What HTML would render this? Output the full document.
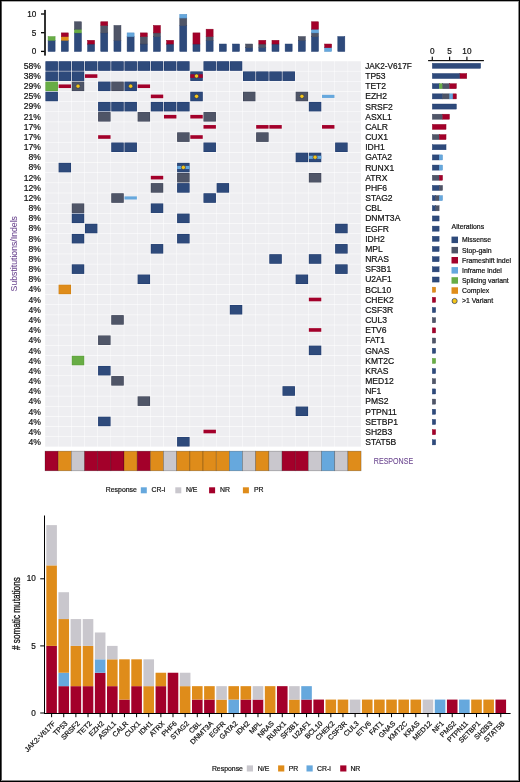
<!DOCTYPE html>
<html><head><meta charset="utf-8"><style>
html,body{margin:0;padding:0;background:#fff;overflow:hidden;}
svg{display:block;font-family:"Liberation Sans", sans-serif;will-change:transform;}
text{stroke:currentColor;stroke-width:0.2px;paint-order:stroke;}
</style></head><body>
<svg width="520" height="782" viewBox="0 0 520 782">
<rect x="0" y="0" width="520" height="782" fill="#fff"/>
<rect x="44.20" y="9.90" width="1.60" height="45.70" fill="#000"/>
<rect x="41.00" y="50.75" width="3.50" height="1.30" fill="#000"/>
<text x="36.40" y="54.30" font-size="8.2" text-anchor="end" fill="#111" color="#111">0</text>
<rect x="41.00" y="32.05" width="3.50" height="1.30" fill="#000"/>
<text x="36.40" y="35.60" font-size="8.2" text-anchor="end" fill="#111" color="#111">5</text>
<rect x="41.00" y="13.35" width="3.50" height="1.30" fill="#000"/>
<text x="36.40" y="16.90" font-size="8.2" text-anchor="end" fill="#111" color="#111">10</text>
<rect x="48.09" y="40.32" width="7.00" height="11.13" fill="#2e4a7b" stroke="#1f3a6e" stroke-width="0.5"/>
<rect x="48.09" y="36.61" width="7.00" height="3.71" fill="#68ad45" stroke="#579a38" stroke-width="0.5"/>
<rect x="61.25" y="40.32" width="7.00" height="11.13" fill="#2e4a7b" stroke="#1f3a6e" stroke-width="0.5"/>
<rect x="61.25" y="36.61" width="7.00" height="3.71" fill="#df8c1a" stroke="#c87a10" stroke-width="0.5"/>
<rect x="61.25" y="32.90" width="7.00" height="3.71" fill="#a3002a" stroke="#8c0022" stroke-width="0.5"/>
<rect x="74.42" y="32.90" width="7.00" height="18.55" fill="#2e4a7b" stroke="#1f3a6e" stroke-width="0.5"/>
<rect x="74.42" y="29.19" width="7.00" height="3.71" fill="#68ad45" stroke="#579a38" stroke-width="0.5"/>
<rect x="74.42" y="21.77" width="7.00" height="7.42" fill="#4f5567" stroke="#3d4357" stroke-width="0.5"/>
<rect x="87.59" y="44.03" width="7.00" height="7.42" fill="#2e4a7b" stroke="#1f3a6e" stroke-width="0.5"/>
<rect x="87.59" y="40.32" width="7.00" height="3.71" fill="#a3002a" stroke="#8c0022" stroke-width="0.5"/>
<rect x="100.77" y="32.90" width="7.00" height="18.55" fill="#2e4a7b" stroke="#1f3a6e" stroke-width="0.5"/>
<rect x="100.77" y="25.48" width="7.00" height="7.42" fill="#4f5567" stroke="#3d4357" stroke-width="0.5"/>
<rect x="100.77" y="21.77" width="7.00" height="3.71" fill="#a3002a" stroke="#8c0022" stroke-width="0.5"/>
<rect x="113.94" y="40.32" width="7.00" height="11.13" fill="#2e4a7b" stroke="#1f3a6e" stroke-width="0.5"/>
<rect x="113.94" y="25.48" width="7.00" height="14.84" fill="#4f5567" stroke="#3d4357" stroke-width="0.5"/>
<rect x="127.11" y="36.61" width="7.00" height="14.84" fill="#2e4a7b" stroke="#1f3a6e" stroke-width="0.5"/>
<rect x="127.11" y="32.90" width="7.00" height="3.71" fill="#66a8dd" stroke="#4f8fc8" stroke-width="0.5"/>
<rect x="140.28" y="44.03" width="7.00" height="7.42" fill="#2e4a7b" stroke="#1f3a6e" stroke-width="0.5"/>
<rect x="140.28" y="36.61" width="7.00" height="7.42" fill="#4f5567" stroke="#3d4357" stroke-width="0.5"/>
<rect x="140.28" y="32.90" width="7.00" height="3.71" fill="#a3002a" stroke="#8c0022" stroke-width="0.5"/>
<rect x="153.44" y="36.61" width="7.00" height="14.84" fill="#2e4a7b" stroke="#1f3a6e" stroke-width="0.5"/>
<rect x="153.44" y="32.90" width="7.00" height="3.71" fill="#4f5567" stroke="#3d4357" stroke-width="0.5"/>
<rect x="153.44" y="25.48" width="7.00" height="7.42" fill="#a3002a" stroke="#8c0022" stroke-width="0.5"/>
<rect x="166.62" y="44.03" width="7.00" height="7.42" fill="#2e4a7b" stroke="#1f3a6e" stroke-width="0.5"/>
<rect x="166.62" y="40.32" width="7.00" height="3.71" fill="#a3002a" stroke="#8c0022" stroke-width="0.5"/>
<rect x="179.78" y="25.48" width="7.00" height="25.97" fill="#2e4a7b" stroke="#1f3a6e" stroke-width="0.5"/>
<rect x="179.78" y="18.06" width="7.00" height="7.42" fill="#4f5567" stroke="#3d4357" stroke-width="0.5"/>
<rect x="179.78" y="14.35" width="7.00" height="3.71" fill="#66a8dd" stroke="#4f8fc8" stroke-width="0.5"/>
<rect x="192.96" y="44.03" width="7.00" height="7.42" fill="#2e4a7b" stroke="#1f3a6e" stroke-width="0.5"/>
<rect x="192.96" y="32.90" width="7.00" height="11.13" fill="#a3002a" stroke="#8c0022" stroke-width="0.5"/>
<rect x="206.12" y="40.32" width="7.00" height="11.13" fill="#2e4a7b" stroke="#1f3a6e" stroke-width="0.5"/>
<rect x="206.12" y="36.61" width="7.00" height="3.71" fill="#4f5567" stroke="#3d4357" stroke-width="0.5"/>
<rect x="206.12" y="29.19" width="7.00" height="7.42" fill="#a3002a" stroke="#8c0022" stroke-width="0.5"/>
<rect x="219.29" y="44.03" width="7.00" height="7.42" fill="#2e4a7b" stroke="#1f3a6e" stroke-width="0.5"/>
<rect x="232.47" y="44.03" width="7.00" height="7.42" fill="#2e4a7b" stroke="#1f3a6e" stroke-width="0.5"/>
<rect x="245.63" y="47.74" width="7.00" height="3.71" fill="#2e4a7b" stroke="#1f3a6e" stroke-width="0.5"/>
<rect x="245.63" y="44.03" width="7.00" height="3.71" fill="#4f5567" stroke="#3d4357" stroke-width="0.5"/>
<rect x="258.81" y="47.74" width="7.00" height="3.71" fill="#2e4a7b" stroke="#1f3a6e" stroke-width="0.5"/>
<rect x="258.81" y="44.03" width="7.00" height="3.71" fill="#4f5567" stroke="#3d4357" stroke-width="0.5"/>
<rect x="258.81" y="40.32" width="7.00" height="3.71" fill="#a3002a" stroke="#8c0022" stroke-width="0.5"/>
<rect x="271.98" y="44.03" width="7.00" height="7.42" fill="#2e4a7b" stroke="#1f3a6e" stroke-width="0.5"/>
<rect x="271.98" y="40.32" width="7.00" height="3.71" fill="#a3002a" stroke="#8c0022" stroke-width="0.5"/>
<rect x="285.14" y="44.03" width="7.00" height="7.42" fill="#2e4a7b" stroke="#1f3a6e" stroke-width="0.5"/>
<rect x="298.31" y="40.32" width="7.00" height="11.13" fill="#2e4a7b" stroke="#1f3a6e" stroke-width="0.5"/>
<rect x="298.31" y="36.61" width="7.00" height="3.71" fill="#4f5567" stroke="#3d4357" stroke-width="0.5"/>
<rect x="311.49" y="36.61" width="7.00" height="14.84" fill="#2e4a7b" stroke="#1f3a6e" stroke-width="0.5"/>
<rect x="311.49" y="32.90" width="7.00" height="3.71" fill="#4f5567" stroke="#3d4357" stroke-width="0.5"/>
<rect x="311.49" y="29.19" width="7.00" height="3.71" fill="#66a8dd" stroke="#4f8fc8" stroke-width="0.5"/>
<rect x="311.49" y="21.77" width="7.00" height="7.42" fill="#a3002a" stroke="#8c0022" stroke-width="0.5"/>
<rect x="324.65" y="47.74" width="7.00" height="3.71" fill="#66a8dd" stroke="#4f8fc8" stroke-width="0.5"/>
<rect x="324.65" y="44.03" width="7.00" height="3.71" fill="#a3002a" stroke="#8c0022" stroke-width="0.5"/>
<rect x="337.82" y="36.61" width="7.00" height="14.84" fill="#2e4a7b" stroke="#1f3a6e" stroke-width="0.5"/>
<rect x="45.00" y="60.80" width="316.08" height="385.89" fill="#ffffff"/>
<rect x="45.20" y="61.25" width="12.77" height="9.65" fill="#eeeef1"/>
<rect x="58.37" y="61.25" width="12.77" height="9.65" fill="#eeeef1"/>
<rect x="71.54" y="61.25" width="12.77" height="9.65" fill="#eeeef1"/>
<rect x="84.71" y="61.25" width="12.77" height="9.65" fill="#eeeef1"/>
<rect x="97.88" y="61.25" width="12.77" height="9.65" fill="#eeeef1"/>
<rect x="111.05" y="61.25" width="12.77" height="9.65" fill="#eeeef1"/>
<rect x="124.22" y="61.25" width="12.77" height="9.65" fill="#eeeef1"/>
<rect x="137.39" y="61.25" width="12.77" height="9.65" fill="#eeeef1"/>
<rect x="150.56" y="61.25" width="12.77" height="9.65" fill="#eeeef1"/>
<rect x="163.73" y="61.25" width="12.77" height="9.65" fill="#eeeef1"/>
<rect x="176.90" y="61.25" width="12.77" height="9.65" fill="#eeeef1"/>
<rect x="190.07" y="61.25" width="12.77" height="9.65" fill="#eeeef1"/>
<rect x="203.24" y="61.25" width="12.77" height="9.65" fill="#eeeef1"/>
<rect x="216.41" y="61.25" width="12.77" height="9.65" fill="#eeeef1"/>
<rect x="229.58" y="61.25" width="12.77" height="9.65" fill="#eeeef1"/>
<rect x="242.75" y="61.25" width="12.77" height="9.65" fill="#eeeef1"/>
<rect x="255.92" y="61.25" width="12.77" height="9.65" fill="#eeeef1"/>
<rect x="269.09" y="61.25" width="12.77" height="9.65" fill="#eeeef1"/>
<rect x="282.26" y="61.25" width="12.77" height="9.65" fill="#eeeef1"/>
<rect x="295.43" y="61.25" width="12.77" height="9.65" fill="#eeeef1"/>
<rect x="308.60" y="61.25" width="12.77" height="9.65" fill="#eeeef1"/>
<rect x="321.77" y="61.25" width="12.77" height="9.65" fill="#eeeef1"/>
<rect x="334.94" y="61.25" width="12.77" height="9.65" fill="#eeeef1"/>
<rect x="348.11" y="61.25" width="12.77" height="9.65" fill="#eeeef1"/>
<rect x="45.20" y="71.41" width="12.77" height="9.65" fill="#eeeef1"/>
<rect x="58.37" y="71.41" width="12.77" height="9.65" fill="#eeeef1"/>
<rect x="71.54" y="71.41" width="12.77" height="9.65" fill="#eeeef1"/>
<rect x="84.71" y="71.41" width="12.77" height="9.65" fill="#eeeef1"/>
<rect x="97.88" y="71.41" width="12.77" height="9.65" fill="#eeeef1"/>
<rect x="111.05" y="71.41" width="12.77" height="9.65" fill="#eeeef1"/>
<rect x="124.22" y="71.41" width="12.77" height="9.65" fill="#eeeef1"/>
<rect x="137.39" y="71.41" width="12.77" height="9.65" fill="#eeeef1"/>
<rect x="150.56" y="71.41" width="12.77" height="9.65" fill="#eeeef1"/>
<rect x="163.73" y="71.41" width="12.77" height="9.65" fill="#eeeef1"/>
<rect x="176.90" y="71.41" width="12.77" height="9.65" fill="#eeeef1"/>
<rect x="190.07" y="71.41" width="12.77" height="9.65" fill="#eeeef1"/>
<rect x="203.24" y="71.41" width="12.77" height="9.65" fill="#eeeef1"/>
<rect x="216.41" y="71.41" width="12.77" height="9.65" fill="#eeeef1"/>
<rect x="229.58" y="71.41" width="12.77" height="9.65" fill="#eeeef1"/>
<rect x="242.75" y="71.41" width="12.77" height="9.65" fill="#eeeef1"/>
<rect x="255.92" y="71.41" width="12.77" height="9.65" fill="#eeeef1"/>
<rect x="269.09" y="71.41" width="12.77" height="9.65" fill="#eeeef1"/>
<rect x="282.26" y="71.41" width="12.77" height="9.65" fill="#eeeef1"/>
<rect x="295.43" y="71.41" width="12.77" height="9.65" fill="#eeeef1"/>
<rect x="308.60" y="71.41" width="12.77" height="9.65" fill="#eeeef1"/>
<rect x="321.77" y="71.41" width="12.77" height="9.65" fill="#eeeef1"/>
<rect x="334.94" y="71.41" width="12.77" height="9.65" fill="#eeeef1"/>
<rect x="348.11" y="71.41" width="12.77" height="9.65" fill="#eeeef1"/>
<rect x="45.20" y="81.56" width="12.77" height="9.65" fill="#eeeef1"/>
<rect x="58.37" y="81.56" width="12.77" height="9.65" fill="#eeeef1"/>
<rect x="71.54" y="81.56" width="12.77" height="9.65" fill="#eeeef1"/>
<rect x="84.71" y="81.56" width="12.77" height="9.65" fill="#eeeef1"/>
<rect x="97.88" y="81.56" width="12.77" height="9.65" fill="#eeeef1"/>
<rect x="111.05" y="81.56" width="12.77" height="9.65" fill="#eeeef1"/>
<rect x="124.22" y="81.56" width="12.77" height="9.65" fill="#eeeef1"/>
<rect x="137.39" y="81.56" width="12.77" height="9.65" fill="#eeeef1"/>
<rect x="150.56" y="81.56" width="12.77" height="9.65" fill="#eeeef1"/>
<rect x="163.73" y="81.56" width="12.77" height="9.65" fill="#eeeef1"/>
<rect x="176.90" y="81.56" width="12.77" height="9.65" fill="#eeeef1"/>
<rect x="190.07" y="81.56" width="12.77" height="9.65" fill="#eeeef1"/>
<rect x="203.24" y="81.56" width="12.77" height="9.65" fill="#eeeef1"/>
<rect x="216.41" y="81.56" width="12.77" height="9.65" fill="#eeeef1"/>
<rect x="229.58" y="81.56" width="12.77" height="9.65" fill="#eeeef1"/>
<rect x="242.75" y="81.56" width="12.77" height="9.65" fill="#eeeef1"/>
<rect x="255.92" y="81.56" width="12.77" height="9.65" fill="#eeeef1"/>
<rect x="269.09" y="81.56" width="12.77" height="9.65" fill="#eeeef1"/>
<rect x="282.26" y="81.56" width="12.77" height="9.65" fill="#eeeef1"/>
<rect x="295.43" y="81.56" width="12.77" height="9.65" fill="#eeeef1"/>
<rect x="308.60" y="81.56" width="12.77" height="9.65" fill="#eeeef1"/>
<rect x="321.77" y="81.56" width="12.77" height="9.65" fill="#eeeef1"/>
<rect x="334.94" y="81.56" width="12.77" height="9.65" fill="#eeeef1"/>
<rect x="348.11" y="81.56" width="12.77" height="9.65" fill="#eeeef1"/>
<rect x="45.20" y="91.71" width="12.77" height="9.65" fill="#eeeef1"/>
<rect x="58.37" y="91.71" width="12.77" height="9.65" fill="#eeeef1"/>
<rect x="71.54" y="91.71" width="12.77" height="9.65" fill="#eeeef1"/>
<rect x="84.71" y="91.71" width="12.77" height="9.65" fill="#eeeef1"/>
<rect x="97.88" y="91.71" width="12.77" height="9.65" fill="#eeeef1"/>
<rect x="111.05" y="91.71" width="12.77" height="9.65" fill="#eeeef1"/>
<rect x="124.22" y="91.71" width="12.77" height="9.65" fill="#eeeef1"/>
<rect x="137.39" y="91.71" width="12.77" height="9.65" fill="#eeeef1"/>
<rect x="150.56" y="91.71" width="12.77" height="9.65" fill="#eeeef1"/>
<rect x="163.73" y="91.71" width="12.77" height="9.65" fill="#eeeef1"/>
<rect x="176.90" y="91.71" width="12.77" height="9.65" fill="#eeeef1"/>
<rect x="190.07" y="91.71" width="12.77" height="9.65" fill="#eeeef1"/>
<rect x="203.24" y="91.71" width="12.77" height="9.65" fill="#eeeef1"/>
<rect x="216.41" y="91.71" width="12.77" height="9.65" fill="#eeeef1"/>
<rect x="229.58" y="91.71" width="12.77" height="9.65" fill="#eeeef1"/>
<rect x="242.75" y="91.71" width="12.77" height="9.65" fill="#eeeef1"/>
<rect x="255.92" y="91.71" width="12.77" height="9.65" fill="#eeeef1"/>
<rect x="269.09" y="91.71" width="12.77" height="9.65" fill="#eeeef1"/>
<rect x="282.26" y="91.71" width="12.77" height="9.65" fill="#eeeef1"/>
<rect x="295.43" y="91.71" width="12.77" height="9.65" fill="#eeeef1"/>
<rect x="308.60" y="91.71" width="12.77" height="9.65" fill="#eeeef1"/>
<rect x="321.77" y="91.71" width="12.77" height="9.65" fill="#eeeef1"/>
<rect x="334.94" y="91.71" width="12.77" height="9.65" fill="#eeeef1"/>
<rect x="348.11" y="91.71" width="12.77" height="9.65" fill="#eeeef1"/>
<rect x="45.20" y="101.87" width="12.77" height="9.65" fill="#eeeef1"/>
<rect x="58.37" y="101.87" width="12.77" height="9.65" fill="#eeeef1"/>
<rect x="71.54" y="101.87" width="12.77" height="9.65" fill="#eeeef1"/>
<rect x="84.71" y="101.87" width="12.77" height="9.65" fill="#eeeef1"/>
<rect x="97.88" y="101.87" width="12.77" height="9.65" fill="#eeeef1"/>
<rect x="111.05" y="101.87" width="12.77" height="9.65" fill="#eeeef1"/>
<rect x="124.22" y="101.87" width="12.77" height="9.65" fill="#eeeef1"/>
<rect x="137.39" y="101.87" width="12.77" height="9.65" fill="#eeeef1"/>
<rect x="150.56" y="101.87" width="12.77" height="9.65" fill="#eeeef1"/>
<rect x="163.73" y="101.87" width="12.77" height="9.65" fill="#eeeef1"/>
<rect x="176.90" y="101.87" width="12.77" height="9.65" fill="#eeeef1"/>
<rect x="190.07" y="101.87" width="12.77" height="9.65" fill="#eeeef1"/>
<rect x="203.24" y="101.87" width="12.77" height="9.65" fill="#eeeef1"/>
<rect x="216.41" y="101.87" width="12.77" height="9.65" fill="#eeeef1"/>
<rect x="229.58" y="101.87" width="12.77" height="9.65" fill="#eeeef1"/>
<rect x="242.75" y="101.87" width="12.77" height="9.65" fill="#eeeef1"/>
<rect x="255.92" y="101.87" width="12.77" height="9.65" fill="#eeeef1"/>
<rect x="269.09" y="101.87" width="12.77" height="9.65" fill="#eeeef1"/>
<rect x="282.26" y="101.87" width="12.77" height="9.65" fill="#eeeef1"/>
<rect x="295.43" y="101.87" width="12.77" height="9.65" fill="#eeeef1"/>
<rect x="308.60" y="101.87" width="12.77" height="9.65" fill="#eeeef1"/>
<rect x="321.77" y="101.87" width="12.77" height="9.65" fill="#eeeef1"/>
<rect x="334.94" y="101.87" width="12.77" height="9.65" fill="#eeeef1"/>
<rect x="348.11" y="101.87" width="12.77" height="9.65" fill="#eeeef1"/>
<rect x="45.20" y="112.02" width="12.77" height="9.65" fill="#eeeef1"/>
<rect x="58.37" y="112.02" width="12.77" height="9.65" fill="#eeeef1"/>
<rect x="71.54" y="112.02" width="12.77" height="9.65" fill="#eeeef1"/>
<rect x="84.71" y="112.02" width="12.77" height="9.65" fill="#eeeef1"/>
<rect x="97.88" y="112.02" width="12.77" height="9.65" fill="#eeeef1"/>
<rect x="111.05" y="112.02" width="12.77" height="9.65" fill="#eeeef1"/>
<rect x="124.22" y="112.02" width="12.77" height="9.65" fill="#eeeef1"/>
<rect x="137.39" y="112.02" width="12.77" height="9.65" fill="#eeeef1"/>
<rect x="150.56" y="112.02" width="12.77" height="9.65" fill="#eeeef1"/>
<rect x="163.73" y="112.02" width="12.77" height="9.65" fill="#eeeef1"/>
<rect x="176.90" y="112.02" width="12.77" height="9.65" fill="#eeeef1"/>
<rect x="190.07" y="112.02" width="12.77" height="9.65" fill="#eeeef1"/>
<rect x="203.24" y="112.02" width="12.77" height="9.65" fill="#eeeef1"/>
<rect x="216.41" y="112.02" width="12.77" height="9.65" fill="#eeeef1"/>
<rect x="229.58" y="112.02" width="12.77" height="9.65" fill="#eeeef1"/>
<rect x="242.75" y="112.02" width="12.77" height="9.65" fill="#eeeef1"/>
<rect x="255.92" y="112.02" width="12.77" height="9.65" fill="#eeeef1"/>
<rect x="269.09" y="112.02" width="12.77" height="9.65" fill="#eeeef1"/>
<rect x="282.26" y="112.02" width="12.77" height="9.65" fill="#eeeef1"/>
<rect x="295.43" y="112.02" width="12.77" height="9.65" fill="#eeeef1"/>
<rect x="308.60" y="112.02" width="12.77" height="9.65" fill="#eeeef1"/>
<rect x="321.77" y="112.02" width="12.77" height="9.65" fill="#eeeef1"/>
<rect x="334.94" y="112.02" width="12.77" height="9.65" fill="#eeeef1"/>
<rect x="348.11" y="112.02" width="12.77" height="9.65" fill="#eeeef1"/>
<rect x="45.20" y="122.18" width="12.77" height="9.65" fill="#eeeef1"/>
<rect x="58.37" y="122.18" width="12.77" height="9.65" fill="#eeeef1"/>
<rect x="71.54" y="122.18" width="12.77" height="9.65" fill="#eeeef1"/>
<rect x="84.71" y="122.18" width="12.77" height="9.65" fill="#eeeef1"/>
<rect x="97.88" y="122.18" width="12.77" height="9.65" fill="#eeeef1"/>
<rect x="111.05" y="122.18" width="12.77" height="9.65" fill="#eeeef1"/>
<rect x="124.22" y="122.18" width="12.77" height="9.65" fill="#eeeef1"/>
<rect x="137.39" y="122.18" width="12.77" height="9.65" fill="#eeeef1"/>
<rect x="150.56" y="122.18" width="12.77" height="9.65" fill="#eeeef1"/>
<rect x="163.73" y="122.18" width="12.77" height="9.65" fill="#eeeef1"/>
<rect x="176.90" y="122.18" width="12.77" height="9.65" fill="#eeeef1"/>
<rect x="190.07" y="122.18" width="12.77" height="9.65" fill="#eeeef1"/>
<rect x="203.24" y="122.18" width="12.77" height="9.65" fill="#eeeef1"/>
<rect x="216.41" y="122.18" width="12.77" height="9.65" fill="#eeeef1"/>
<rect x="229.58" y="122.18" width="12.77" height="9.65" fill="#eeeef1"/>
<rect x="242.75" y="122.18" width="12.77" height="9.65" fill="#eeeef1"/>
<rect x="255.92" y="122.18" width="12.77" height="9.65" fill="#eeeef1"/>
<rect x="269.09" y="122.18" width="12.77" height="9.65" fill="#eeeef1"/>
<rect x="282.26" y="122.18" width="12.77" height="9.65" fill="#eeeef1"/>
<rect x="295.43" y="122.18" width="12.77" height="9.65" fill="#eeeef1"/>
<rect x="308.60" y="122.18" width="12.77" height="9.65" fill="#eeeef1"/>
<rect x="321.77" y="122.18" width="12.77" height="9.65" fill="#eeeef1"/>
<rect x="334.94" y="122.18" width="12.77" height="9.65" fill="#eeeef1"/>
<rect x="348.11" y="122.18" width="12.77" height="9.65" fill="#eeeef1"/>
<rect x="45.20" y="132.33" width="12.77" height="9.65" fill="#eeeef1"/>
<rect x="58.37" y="132.33" width="12.77" height="9.65" fill="#eeeef1"/>
<rect x="71.54" y="132.33" width="12.77" height="9.65" fill="#eeeef1"/>
<rect x="84.71" y="132.33" width="12.77" height="9.65" fill="#eeeef1"/>
<rect x="97.88" y="132.33" width="12.77" height="9.65" fill="#eeeef1"/>
<rect x="111.05" y="132.33" width="12.77" height="9.65" fill="#eeeef1"/>
<rect x="124.22" y="132.33" width="12.77" height="9.65" fill="#eeeef1"/>
<rect x="137.39" y="132.33" width="12.77" height="9.65" fill="#eeeef1"/>
<rect x="150.56" y="132.33" width="12.77" height="9.65" fill="#eeeef1"/>
<rect x="163.73" y="132.33" width="12.77" height="9.65" fill="#eeeef1"/>
<rect x="176.90" y="132.33" width="12.77" height="9.65" fill="#eeeef1"/>
<rect x="190.07" y="132.33" width="12.77" height="9.65" fill="#eeeef1"/>
<rect x="203.24" y="132.33" width="12.77" height="9.65" fill="#eeeef1"/>
<rect x="216.41" y="132.33" width="12.77" height="9.65" fill="#eeeef1"/>
<rect x="229.58" y="132.33" width="12.77" height="9.65" fill="#eeeef1"/>
<rect x="242.75" y="132.33" width="12.77" height="9.65" fill="#eeeef1"/>
<rect x="255.92" y="132.33" width="12.77" height="9.65" fill="#eeeef1"/>
<rect x="269.09" y="132.33" width="12.77" height="9.65" fill="#eeeef1"/>
<rect x="282.26" y="132.33" width="12.77" height="9.65" fill="#eeeef1"/>
<rect x="295.43" y="132.33" width="12.77" height="9.65" fill="#eeeef1"/>
<rect x="308.60" y="132.33" width="12.77" height="9.65" fill="#eeeef1"/>
<rect x="321.77" y="132.33" width="12.77" height="9.65" fill="#eeeef1"/>
<rect x="334.94" y="132.33" width="12.77" height="9.65" fill="#eeeef1"/>
<rect x="348.11" y="132.33" width="12.77" height="9.65" fill="#eeeef1"/>
<rect x="45.20" y="142.49" width="12.77" height="9.65" fill="#eeeef1"/>
<rect x="58.37" y="142.49" width="12.77" height="9.65" fill="#eeeef1"/>
<rect x="71.54" y="142.49" width="12.77" height="9.65" fill="#eeeef1"/>
<rect x="84.71" y="142.49" width="12.77" height="9.65" fill="#eeeef1"/>
<rect x="97.88" y="142.49" width="12.77" height="9.65" fill="#eeeef1"/>
<rect x="111.05" y="142.49" width="12.77" height="9.65" fill="#eeeef1"/>
<rect x="124.22" y="142.49" width="12.77" height="9.65" fill="#eeeef1"/>
<rect x="137.39" y="142.49" width="12.77" height="9.65" fill="#eeeef1"/>
<rect x="150.56" y="142.49" width="12.77" height="9.65" fill="#eeeef1"/>
<rect x="163.73" y="142.49" width="12.77" height="9.65" fill="#eeeef1"/>
<rect x="176.90" y="142.49" width="12.77" height="9.65" fill="#eeeef1"/>
<rect x="190.07" y="142.49" width="12.77" height="9.65" fill="#eeeef1"/>
<rect x="203.24" y="142.49" width="12.77" height="9.65" fill="#eeeef1"/>
<rect x="216.41" y="142.49" width="12.77" height="9.65" fill="#eeeef1"/>
<rect x="229.58" y="142.49" width="12.77" height="9.65" fill="#eeeef1"/>
<rect x="242.75" y="142.49" width="12.77" height="9.65" fill="#eeeef1"/>
<rect x="255.92" y="142.49" width="12.77" height="9.65" fill="#eeeef1"/>
<rect x="269.09" y="142.49" width="12.77" height="9.65" fill="#eeeef1"/>
<rect x="282.26" y="142.49" width="12.77" height="9.65" fill="#eeeef1"/>
<rect x="295.43" y="142.49" width="12.77" height="9.65" fill="#eeeef1"/>
<rect x="308.60" y="142.49" width="12.77" height="9.65" fill="#eeeef1"/>
<rect x="321.77" y="142.49" width="12.77" height="9.65" fill="#eeeef1"/>
<rect x="334.94" y="142.49" width="12.77" height="9.65" fill="#eeeef1"/>
<rect x="348.11" y="142.49" width="12.77" height="9.65" fill="#eeeef1"/>
<rect x="45.20" y="152.64" width="12.77" height="9.65" fill="#eeeef1"/>
<rect x="58.37" y="152.64" width="12.77" height="9.65" fill="#eeeef1"/>
<rect x="71.54" y="152.64" width="12.77" height="9.65" fill="#eeeef1"/>
<rect x="84.71" y="152.64" width="12.77" height="9.65" fill="#eeeef1"/>
<rect x="97.88" y="152.64" width="12.77" height="9.65" fill="#eeeef1"/>
<rect x="111.05" y="152.64" width="12.77" height="9.65" fill="#eeeef1"/>
<rect x="124.22" y="152.64" width="12.77" height="9.65" fill="#eeeef1"/>
<rect x="137.39" y="152.64" width="12.77" height="9.65" fill="#eeeef1"/>
<rect x="150.56" y="152.64" width="12.77" height="9.65" fill="#eeeef1"/>
<rect x="163.73" y="152.64" width="12.77" height="9.65" fill="#eeeef1"/>
<rect x="176.90" y="152.64" width="12.77" height="9.65" fill="#eeeef1"/>
<rect x="190.07" y="152.64" width="12.77" height="9.65" fill="#eeeef1"/>
<rect x="203.24" y="152.64" width="12.77" height="9.65" fill="#eeeef1"/>
<rect x="216.41" y="152.64" width="12.77" height="9.65" fill="#eeeef1"/>
<rect x="229.58" y="152.64" width="12.77" height="9.65" fill="#eeeef1"/>
<rect x="242.75" y="152.64" width="12.77" height="9.65" fill="#eeeef1"/>
<rect x="255.92" y="152.64" width="12.77" height="9.65" fill="#eeeef1"/>
<rect x="269.09" y="152.64" width="12.77" height="9.65" fill="#eeeef1"/>
<rect x="282.26" y="152.64" width="12.77" height="9.65" fill="#eeeef1"/>
<rect x="295.43" y="152.64" width="12.77" height="9.65" fill="#eeeef1"/>
<rect x="308.60" y="152.64" width="12.77" height="9.65" fill="#eeeef1"/>
<rect x="321.77" y="152.64" width="12.77" height="9.65" fill="#eeeef1"/>
<rect x="334.94" y="152.64" width="12.77" height="9.65" fill="#eeeef1"/>
<rect x="348.11" y="152.64" width="12.77" height="9.65" fill="#eeeef1"/>
<rect x="45.20" y="162.80" width="12.77" height="9.65" fill="#eeeef1"/>
<rect x="58.37" y="162.80" width="12.77" height="9.65" fill="#eeeef1"/>
<rect x="71.54" y="162.80" width="12.77" height="9.65" fill="#eeeef1"/>
<rect x="84.71" y="162.80" width="12.77" height="9.65" fill="#eeeef1"/>
<rect x="97.88" y="162.80" width="12.77" height="9.65" fill="#eeeef1"/>
<rect x="111.05" y="162.80" width="12.77" height="9.65" fill="#eeeef1"/>
<rect x="124.22" y="162.80" width="12.77" height="9.65" fill="#eeeef1"/>
<rect x="137.39" y="162.80" width="12.77" height="9.65" fill="#eeeef1"/>
<rect x="150.56" y="162.80" width="12.77" height="9.65" fill="#eeeef1"/>
<rect x="163.73" y="162.80" width="12.77" height="9.65" fill="#eeeef1"/>
<rect x="176.90" y="162.80" width="12.77" height="9.65" fill="#eeeef1"/>
<rect x="190.07" y="162.80" width="12.77" height="9.65" fill="#eeeef1"/>
<rect x="203.24" y="162.80" width="12.77" height="9.65" fill="#eeeef1"/>
<rect x="216.41" y="162.80" width="12.77" height="9.65" fill="#eeeef1"/>
<rect x="229.58" y="162.80" width="12.77" height="9.65" fill="#eeeef1"/>
<rect x="242.75" y="162.80" width="12.77" height="9.65" fill="#eeeef1"/>
<rect x="255.92" y="162.80" width="12.77" height="9.65" fill="#eeeef1"/>
<rect x="269.09" y="162.80" width="12.77" height="9.65" fill="#eeeef1"/>
<rect x="282.26" y="162.80" width="12.77" height="9.65" fill="#eeeef1"/>
<rect x="295.43" y="162.80" width="12.77" height="9.65" fill="#eeeef1"/>
<rect x="308.60" y="162.80" width="12.77" height="9.65" fill="#eeeef1"/>
<rect x="321.77" y="162.80" width="12.77" height="9.65" fill="#eeeef1"/>
<rect x="334.94" y="162.80" width="12.77" height="9.65" fill="#eeeef1"/>
<rect x="348.11" y="162.80" width="12.77" height="9.65" fill="#eeeef1"/>
<rect x="45.20" y="172.95" width="12.77" height="9.65" fill="#eeeef1"/>
<rect x="58.37" y="172.95" width="12.77" height="9.65" fill="#eeeef1"/>
<rect x="71.54" y="172.95" width="12.77" height="9.65" fill="#eeeef1"/>
<rect x="84.71" y="172.95" width="12.77" height="9.65" fill="#eeeef1"/>
<rect x="97.88" y="172.95" width="12.77" height="9.65" fill="#eeeef1"/>
<rect x="111.05" y="172.95" width="12.77" height="9.65" fill="#eeeef1"/>
<rect x="124.22" y="172.95" width="12.77" height="9.65" fill="#eeeef1"/>
<rect x="137.39" y="172.95" width="12.77" height="9.65" fill="#eeeef1"/>
<rect x="150.56" y="172.95" width="12.77" height="9.65" fill="#eeeef1"/>
<rect x="163.73" y="172.95" width="12.77" height="9.65" fill="#eeeef1"/>
<rect x="176.90" y="172.95" width="12.77" height="9.65" fill="#eeeef1"/>
<rect x="190.07" y="172.95" width="12.77" height="9.65" fill="#eeeef1"/>
<rect x="203.24" y="172.95" width="12.77" height="9.65" fill="#eeeef1"/>
<rect x="216.41" y="172.95" width="12.77" height="9.65" fill="#eeeef1"/>
<rect x="229.58" y="172.95" width="12.77" height="9.65" fill="#eeeef1"/>
<rect x="242.75" y="172.95" width="12.77" height="9.65" fill="#eeeef1"/>
<rect x="255.92" y="172.95" width="12.77" height="9.65" fill="#eeeef1"/>
<rect x="269.09" y="172.95" width="12.77" height="9.65" fill="#eeeef1"/>
<rect x="282.26" y="172.95" width="12.77" height="9.65" fill="#eeeef1"/>
<rect x="295.43" y="172.95" width="12.77" height="9.65" fill="#eeeef1"/>
<rect x="308.60" y="172.95" width="12.77" height="9.65" fill="#eeeef1"/>
<rect x="321.77" y="172.95" width="12.77" height="9.65" fill="#eeeef1"/>
<rect x="334.94" y="172.95" width="12.77" height="9.65" fill="#eeeef1"/>
<rect x="348.11" y="172.95" width="12.77" height="9.65" fill="#eeeef1"/>
<rect x="45.20" y="183.11" width="12.77" height="9.65" fill="#eeeef1"/>
<rect x="58.37" y="183.11" width="12.77" height="9.65" fill="#eeeef1"/>
<rect x="71.54" y="183.11" width="12.77" height="9.65" fill="#eeeef1"/>
<rect x="84.71" y="183.11" width="12.77" height="9.65" fill="#eeeef1"/>
<rect x="97.88" y="183.11" width="12.77" height="9.65" fill="#eeeef1"/>
<rect x="111.05" y="183.11" width="12.77" height="9.65" fill="#eeeef1"/>
<rect x="124.22" y="183.11" width="12.77" height="9.65" fill="#eeeef1"/>
<rect x="137.39" y="183.11" width="12.77" height="9.65" fill="#eeeef1"/>
<rect x="150.56" y="183.11" width="12.77" height="9.65" fill="#eeeef1"/>
<rect x="163.73" y="183.11" width="12.77" height="9.65" fill="#eeeef1"/>
<rect x="176.90" y="183.11" width="12.77" height="9.65" fill="#eeeef1"/>
<rect x="190.07" y="183.11" width="12.77" height="9.65" fill="#eeeef1"/>
<rect x="203.24" y="183.11" width="12.77" height="9.65" fill="#eeeef1"/>
<rect x="216.41" y="183.11" width="12.77" height="9.65" fill="#eeeef1"/>
<rect x="229.58" y="183.11" width="12.77" height="9.65" fill="#eeeef1"/>
<rect x="242.75" y="183.11" width="12.77" height="9.65" fill="#eeeef1"/>
<rect x="255.92" y="183.11" width="12.77" height="9.65" fill="#eeeef1"/>
<rect x="269.09" y="183.11" width="12.77" height="9.65" fill="#eeeef1"/>
<rect x="282.26" y="183.11" width="12.77" height="9.65" fill="#eeeef1"/>
<rect x="295.43" y="183.11" width="12.77" height="9.65" fill="#eeeef1"/>
<rect x="308.60" y="183.11" width="12.77" height="9.65" fill="#eeeef1"/>
<rect x="321.77" y="183.11" width="12.77" height="9.65" fill="#eeeef1"/>
<rect x="334.94" y="183.11" width="12.77" height="9.65" fill="#eeeef1"/>
<rect x="348.11" y="183.11" width="12.77" height="9.65" fill="#eeeef1"/>
<rect x="45.20" y="193.26" width="12.77" height="9.65" fill="#eeeef1"/>
<rect x="58.37" y="193.26" width="12.77" height="9.65" fill="#eeeef1"/>
<rect x="71.54" y="193.26" width="12.77" height="9.65" fill="#eeeef1"/>
<rect x="84.71" y="193.26" width="12.77" height="9.65" fill="#eeeef1"/>
<rect x="97.88" y="193.26" width="12.77" height="9.65" fill="#eeeef1"/>
<rect x="111.05" y="193.26" width="12.77" height="9.65" fill="#eeeef1"/>
<rect x="124.22" y="193.26" width="12.77" height="9.65" fill="#eeeef1"/>
<rect x="137.39" y="193.26" width="12.77" height="9.65" fill="#eeeef1"/>
<rect x="150.56" y="193.26" width="12.77" height="9.65" fill="#eeeef1"/>
<rect x="163.73" y="193.26" width="12.77" height="9.65" fill="#eeeef1"/>
<rect x="176.90" y="193.26" width="12.77" height="9.65" fill="#eeeef1"/>
<rect x="190.07" y="193.26" width="12.77" height="9.65" fill="#eeeef1"/>
<rect x="203.24" y="193.26" width="12.77" height="9.65" fill="#eeeef1"/>
<rect x="216.41" y="193.26" width="12.77" height="9.65" fill="#eeeef1"/>
<rect x="229.58" y="193.26" width="12.77" height="9.65" fill="#eeeef1"/>
<rect x="242.75" y="193.26" width="12.77" height="9.65" fill="#eeeef1"/>
<rect x="255.92" y="193.26" width="12.77" height="9.65" fill="#eeeef1"/>
<rect x="269.09" y="193.26" width="12.77" height="9.65" fill="#eeeef1"/>
<rect x="282.26" y="193.26" width="12.77" height="9.65" fill="#eeeef1"/>
<rect x="295.43" y="193.26" width="12.77" height="9.65" fill="#eeeef1"/>
<rect x="308.60" y="193.26" width="12.77" height="9.65" fill="#eeeef1"/>
<rect x="321.77" y="193.26" width="12.77" height="9.65" fill="#eeeef1"/>
<rect x="334.94" y="193.26" width="12.77" height="9.65" fill="#eeeef1"/>
<rect x="348.11" y="193.26" width="12.77" height="9.65" fill="#eeeef1"/>
<rect x="45.20" y="203.42" width="12.77" height="9.65" fill="#eeeef1"/>
<rect x="58.37" y="203.42" width="12.77" height="9.65" fill="#eeeef1"/>
<rect x="71.54" y="203.42" width="12.77" height="9.65" fill="#eeeef1"/>
<rect x="84.71" y="203.42" width="12.77" height="9.65" fill="#eeeef1"/>
<rect x="97.88" y="203.42" width="12.77" height="9.65" fill="#eeeef1"/>
<rect x="111.05" y="203.42" width="12.77" height="9.65" fill="#eeeef1"/>
<rect x="124.22" y="203.42" width="12.77" height="9.65" fill="#eeeef1"/>
<rect x="137.39" y="203.42" width="12.77" height="9.65" fill="#eeeef1"/>
<rect x="150.56" y="203.42" width="12.77" height="9.65" fill="#eeeef1"/>
<rect x="163.73" y="203.42" width="12.77" height="9.65" fill="#eeeef1"/>
<rect x="176.90" y="203.42" width="12.77" height="9.65" fill="#eeeef1"/>
<rect x="190.07" y="203.42" width="12.77" height="9.65" fill="#eeeef1"/>
<rect x="203.24" y="203.42" width="12.77" height="9.65" fill="#eeeef1"/>
<rect x="216.41" y="203.42" width="12.77" height="9.65" fill="#eeeef1"/>
<rect x="229.58" y="203.42" width="12.77" height="9.65" fill="#eeeef1"/>
<rect x="242.75" y="203.42" width="12.77" height="9.65" fill="#eeeef1"/>
<rect x="255.92" y="203.42" width="12.77" height="9.65" fill="#eeeef1"/>
<rect x="269.09" y="203.42" width="12.77" height="9.65" fill="#eeeef1"/>
<rect x="282.26" y="203.42" width="12.77" height="9.65" fill="#eeeef1"/>
<rect x="295.43" y="203.42" width="12.77" height="9.65" fill="#eeeef1"/>
<rect x="308.60" y="203.42" width="12.77" height="9.65" fill="#eeeef1"/>
<rect x="321.77" y="203.42" width="12.77" height="9.65" fill="#eeeef1"/>
<rect x="334.94" y="203.42" width="12.77" height="9.65" fill="#eeeef1"/>
<rect x="348.11" y="203.42" width="12.77" height="9.65" fill="#eeeef1"/>
<rect x="45.20" y="213.57" width="12.77" height="9.65" fill="#eeeef1"/>
<rect x="58.37" y="213.57" width="12.77" height="9.65" fill="#eeeef1"/>
<rect x="71.54" y="213.57" width="12.77" height="9.65" fill="#eeeef1"/>
<rect x="84.71" y="213.57" width="12.77" height="9.65" fill="#eeeef1"/>
<rect x="97.88" y="213.57" width="12.77" height="9.65" fill="#eeeef1"/>
<rect x="111.05" y="213.57" width="12.77" height="9.65" fill="#eeeef1"/>
<rect x="124.22" y="213.57" width="12.77" height="9.65" fill="#eeeef1"/>
<rect x="137.39" y="213.57" width="12.77" height="9.65" fill="#eeeef1"/>
<rect x="150.56" y="213.57" width="12.77" height="9.65" fill="#eeeef1"/>
<rect x="163.73" y="213.57" width="12.77" height="9.65" fill="#eeeef1"/>
<rect x="176.90" y="213.57" width="12.77" height="9.65" fill="#eeeef1"/>
<rect x="190.07" y="213.57" width="12.77" height="9.65" fill="#eeeef1"/>
<rect x="203.24" y="213.57" width="12.77" height="9.65" fill="#eeeef1"/>
<rect x="216.41" y="213.57" width="12.77" height="9.65" fill="#eeeef1"/>
<rect x="229.58" y="213.57" width="12.77" height="9.65" fill="#eeeef1"/>
<rect x="242.75" y="213.57" width="12.77" height="9.65" fill="#eeeef1"/>
<rect x="255.92" y="213.57" width="12.77" height="9.65" fill="#eeeef1"/>
<rect x="269.09" y="213.57" width="12.77" height="9.65" fill="#eeeef1"/>
<rect x="282.26" y="213.57" width="12.77" height="9.65" fill="#eeeef1"/>
<rect x="295.43" y="213.57" width="12.77" height="9.65" fill="#eeeef1"/>
<rect x="308.60" y="213.57" width="12.77" height="9.65" fill="#eeeef1"/>
<rect x="321.77" y="213.57" width="12.77" height="9.65" fill="#eeeef1"/>
<rect x="334.94" y="213.57" width="12.77" height="9.65" fill="#eeeef1"/>
<rect x="348.11" y="213.57" width="12.77" height="9.65" fill="#eeeef1"/>
<rect x="45.20" y="223.73" width="12.77" height="9.65" fill="#eeeef1"/>
<rect x="58.37" y="223.73" width="12.77" height="9.65" fill="#eeeef1"/>
<rect x="71.54" y="223.73" width="12.77" height="9.65" fill="#eeeef1"/>
<rect x="84.71" y="223.73" width="12.77" height="9.65" fill="#eeeef1"/>
<rect x="97.88" y="223.73" width="12.77" height="9.65" fill="#eeeef1"/>
<rect x="111.05" y="223.73" width="12.77" height="9.65" fill="#eeeef1"/>
<rect x="124.22" y="223.73" width="12.77" height="9.65" fill="#eeeef1"/>
<rect x="137.39" y="223.73" width="12.77" height="9.65" fill="#eeeef1"/>
<rect x="150.56" y="223.73" width="12.77" height="9.65" fill="#eeeef1"/>
<rect x="163.73" y="223.73" width="12.77" height="9.65" fill="#eeeef1"/>
<rect x="176.90" y="223.73" width="12.77" height="9.65" fill="#eeeef1"/>
<rect x="190.07" y="223.73" width="12.77" height="9.65" fill="#eeeef1"/>
<rect x="203.24" y="223.73" width="12.77" height="9.65" fill="#eeeef1"/>
<rect x="216.41" y="223.73" width="12.77" height="9.65" fill="#eeeef1"/>
<rect x="229.58" y="223.73" width="12.77" height="9.65" fill="#eeeef1"/>
<rect x="242.75" y="223.73" width="12.77" height="9.65" fill="#eeeef1"/>
<rect x="255.92" y="223.73" width="12.77" height="9.65" fill="#eeeef1"/>
<rect x="269.09" y="223.73" width="12.77" height="9.65" fill="#eeeef1"/>
<rect x="282.26" y="223.73" width="12.77" height="9.65" fill="#eeeef1"/>
<rect x="295.43" y="223.73" width="12.77" height="9.65" fill="#eeeef1"/>
<rect x="308.60" y="223.73" width="12.77" height="9.65" fill="#eeeef1"/>
<rect x="321.77" y="223.73" width="12.77" height="9.65" fill="#eeeef1"/>
<rect x="334.94" y="223.73" width="12.77" height="9.65" fill="#eeeef1"/>
<rect x="348.11" y="223.73" width="12.77" height="9.65" fill="#eeeef1"/>
<rect x="45.20" y="233.88" width="12.77" height="9.65" fill="#eeeef1"/>
<rect x="58.37" y="233.88" width="12.77" height="9.65" fill="#eeeef1"/>
<rect x="71.54" y="233.88" width="12.77" height="9.65" fill="#eeeef1"/>
<rect x="84.71" y="233.88" width="12.77" height="9.65" fill="#eeeef1"/>
<rect x="97.88" y="233.88" width="12.77" height="9.65" fill="#eeeef1"/>
<rect x="111.05" y="233.88" width="12.77" height="9.65" fill="#eeeef1"/>
<rect x="124.22" y="233.88" width="12.77" height="9.65" fill="#eeeef1"/>
<rect x="137.39" y="233.88" width="12.77" height="9.65" fill="#eeeef1"/>
<rect x="150.56" y="233.88" width="12.77" height="9.65" fill="#eeeef1"/>
<rect x="163.73" y="233.88" width="12.77" height="9.65" fill="#eeeef1"/>
<rect x="176.90" y="233.88" width="12.77" height="9.65" fill="#eeeef1"/>
<rect x="190.07" y="233.88" width="12.77" height="9.65" fill="#eeeef1"/>
<rect x="203.24" y="233.88" width="12.77" height="9.65" fill="#eeeef1"/>
<rect x="216.41" y="233.88" width="12.77" height="9.65" fill="#eeeef1"/>
<rect x="229.58" y="233.88" width="12.77" height="9.65" fill="#eeeef1"/>
<rect x="242.75" y="233.88" width="12.77" height="9.65" fill="#eeeef1"/>
<rect x="255.92" y="233.88" width="12.77" height="9.65" fill="#eeeef1"/>
<rect x="269.09" y="233.88" width="12.77" height="9.65" fill="#eeeef1"/>
<rect x="282.26" y="233.88" width="12.77" height="9.65" fill="#eeeef1"/>
<rect x="295.43" y="233.88" width="12.77" height="9.65" fill="#eeeef1"/>
<rect x="308.60" y="233.88" width="12.77" height="9.65" fill="#eeeef1"/>
<rect x="321.77" y="233.88" width="12.77" height="9.65" fill="#eeeef1"/>
<rect x="334.94" y="233.88" width="12.77" height="9.65" fill="#eeeef1"/>
<rect x="348.11" y="233.88" width="12.77" height="9.65" fill="#eeeef1"/>
<rect x="45.20" y="244.04" width="12.77" height="9.65" fill="#eeeef1"/>
<rect x="58.37" y="244.04" width="12.77" height="9.65" fill="#eeeef1"/>
<rect x="71.54" y="244.04" width="12.77" height="9.65" fill="#eeeef1"/>
<rect x="84.71" y="244.04" width="12.77" height="9.65" fill="#eeeef1"/>
<rect x="97.88" y="244.04" width="12.77" height="9.65" fill="#eeeef1"/>
<rect x="111.05" y="244.04" width="12.77" height="9.65" fill="#eeeef1"/>
<rect x="124.22" y="244.04" width="12.77" height="9.65" fill="#eeeef1"/>
<rect x="137.39" y="244.04" width="12.77" height="9.65" fill="#eeeef1"/>
<rect x="150.56" y="244.04" width="12.77" height="9.65" fill="#eeeef1"/>
<rect x="163.73" y="244.04" width="12.77" height="9.65" fill="#eeeef1"/>
<rect x="176.90" y="244.04" width="12.77" height="9.65" fill="#eeeef1"/>
<rect x="190.07" y="244.04" width="12.77" height="9.65" fill="#eeeef1"/>
<rect x="203.24" y="244.04" width="12.77" height="9.65" fill="#eeeef1"/>
<rect x="216.41" y="244.04" width="12.77" height="9.65" fill="#eeeef1"/>
<rect x="229.58" y="244.04" width="12.77" height="9.65" fill="#eeeef1"/>
<rect x="242.75" y="244.04" width="12.77" height="9.65" fill="#eeeef1"/>
<rect x="255.92" y="244.04" width="12.77" height="9.65" fill="#eeeef1"/>
<rect x="269.09" y="244.04" width="12.77" height="9.65" fill="#eeeef1"/>
<rect x="282.26" y="244.04" width="12.77" height="9.65" fill="#eeeef1"/>
<rect x="295.43" y="244.04" width="12.77" height="9.65" fill="#eeeef1"/>
<rect x="308.60" y="244.04" width="12.77" height="9.65" fill="#eeeef1"/>
<rect x="321.77" y="244.04" width="12.77" height="9.65" fill="#eeeef1"/>
<rect x="334.94" y="244.04" width="12.77" height="9.65" fill="#eeeef1"/>
<rect x="348.11" y="244.04" width="12.77" height="9.65" fill="#eeeef1"/>
<rect x="45.20" y="254.19" width="12.77" height="9.65" fill="#eeeef1"/>
<rect x="58.37" y="254.19" width="12.77" height="9.65" fill="#eeeef1"/>
<rect x="71.54" y="254.19" width="12.77" height="9.65" fill="#eeeef1"/>
<rect x="84.71" y="254.19" width="12.77" height="9.65" fill="#eeeef1"/>
<rect x="97.88" y="254.19" width="12.77" height="9.65" fill="#eeeef1"/>
<rect x="111.05" y="254.19" width="12.77" height="9.65" fill="#eeeef1"/>
<rect x="124.22" y="254.19" width="12.77" height="9.65" fill="#eeeef1"/>
<rect x="137.39" y="254.19" width="12.77" height="9.65" fill="#eeeef1"/>
<rect x="150.56" y="254.19" width="12.77" height="9.65" fill="#eeeef1"/>
<rect x="163.73" y="254.19" width="12.77" height="9.65" fill="#eeeef1"/>
<rect x="176.90" y="254.19" width="12.77" height="9.65" fill="#eeeef1"/>
<rect x="190.07" y="254.19" width="12.77" height="9.65" fill="#eeeef1"/>
<rect x="203.24" y="254.19" width="12.77" height="9.65" fill="#eeeef1"/>
<rect x="216.41" y="254.19" width="12.77" height="9.65" fill="#eeeef1"/>
<rect x="229.58" y="254.19" width="12.77" height="9.65" fill="#eeeef1"/>
<rect x="242.75" y="254.19" width="12.77" height="9.65" fill="#eeeef1"/>
<rect x="255.92" y="254.19" width="12.77" height="9.65" fill="#eeeef1"/>
<rect x="269.09" y="254.19" width="12.77" height="9.65" fill="#eeeef1"/>
<rect x="282.26" y="254.19" width="12.77" height="9.65" fill="#eeeef1"/>
<rect x="295.43" y="254.19" width="12.77" height="9.65" fill="#eeeef1"/>
<rect x="308.60" y="254.19" width="12.77" height="9.65" fill="#eeeef1"/>
<rect x="321.77" y="254.19" width="12.77" height="9.65" fill="#eeeef1"/>
<rect x="334.94" y="254.19" width="12.77" height="9.65" fill="#eeeef1"/>
<rect x="348.11" y="254.19" width="12.77" height="9.65" fill="#eeeef1"/>
<rect x="45.20" y="264.35" width="12.77" height="9.65" fill="#eeeef1"/>
<rect x="58.37" y="264.35" width="12.77" height="9.65" fill="#eeeef1"/>
<rect x="71.54" y="264.35" width="12.77" height="9.65" fill="#eeeef1"/>
<rect x="84.71" y="264.35" width="12.77" height="9.65" fill="#eeeef1"/>
<rect x="97.88" y="264.35" width="12.77" height="9.65" fill="#eeeef1"/>
<rect x="111.05" y="264.35" width="12.77" height="9.65" fill="#eeeef1"/>
<rect x="124.22" y="264.35" width="12.77" height="9.65" fill="#eeeef1"/>
<rect x="137.39" y="264.35" width="12.77" height="9.65" fill="#eeeef1"/>
<rect x="150.56" y="264.35" width="12.77" height="9.65" fill="#eeeef1"/>
<rect x="163.73" y="264.35" width="12.77" height="9.65" fill="#eeeef1"/>
<rect x="176.90" y="264.35" width="12.77" height="9.65" fill="#eeeef1"/>
<rect x="190.07" y="264.35" width="12.77" height="9.65" fill="#eeeef1"/>
<rect x="203.24" y="264.35" width="12.77" height="9.65" fill="#eeeef1"/>
<rect x="216.41" y="264.35" width="12.77" height="9.65" fill="#eeeef1"/>
<rect x="229.58" y="264.35" width="12.77" height="9.65" fill="#eeeef1"/>
<rect x="242.75" y="264.35" width="12.77" height="9.65" fill="#eeeef1"/>
<rect x="255.92" y="264.35" width="12.77" height="9.65" fill="#eeeef1"/>
<rect x="269.09" y="264.35" width="12.77" height="9.65" fill="#eeeef1"/>
<rect x="282.26" y="264.35" width="12.77" height="9.65" fill="#eeeef1"/>
<rect x="295.43" y="264.35" width="12.77" height="9.65" fill="#eeeef1"/>
<rect x="308.60" y="264.35" width="12.77" height="9.65" fill="#eeeef1"/>
<rect x="321.77" y="264.35" width="12.77" height="9.65" fill="#eeeef1"/>
<rect x="334.94" y="264.35" width="12.77" height="9.65" fill="#eeeef1"/>
<rect x="348.11" y="264.35" width="12.77" height="9.65" fill="#eeeef1"/>
<rect x="45.20" y="274.50" width="12.77" height="9.65" fill="#eeeef1"/>
<rect x="58.37" y="274.50" width="12.77" height="9.65" fill="#eeeef1"/>
<rect x="71.54" y="274.50" width="12.77" height="9.65" fill="#eeeef1"/>
<rect x="84.71" y="274.50" width="12.77" height="9.65" fill="#eeeef1"/>
<rect x="97.88" y="274.50" width="12.77" height="9.65" fill="#eeeef1"/>
<rect x="111.05" y="274.50" width="12.77" height="9.65" fill="#eeeef1"/>
<rect x="124.22" y="274.50" width="12.77" height="9.65" fill="#eeeef1"/>
<rect x="137.39" y="274.50" width="12.77" height="9.65" fill="#eeeef1"/>
<rect x="150.56" y="274.50" width="12.77" height="9.65" fill="#eeeef1"/>
<rect x="163.73" y="274.50" width="12.77" height="9.65" fill="#eeeef1"/>
<rect x="176.90" y="274.50" width="12.77" height="9.65" fill="#eeeef1"/>
<rect x="190.07" y="274.50" width="12.77" height="9.65" fill="#eeeef1"/>
<rect x="203.24" y="274.50" width="12.77" height="9.65" fill="#eeeef1"/>
<rect x="216.41" y="274.50" width="12.77" height="9.65" fill="#eeeef1"/>
<rect x="229.58" y="274.50" width="12.77" height="9.65" fill="#eeeef1"/>
<rect x="242.75" y="274.50" width="12.77" height="9.65" fill="#eeeef1"/>
<rect x="255.92" y="274.50" width="12.77" height="9.65" fill="#eeeef1"/>
<rect x="269.09" y="274.50" width="12.77" height="9.65" fill="#eeeef1"/>
<rect x="282.26" y="274.50" width="12.77" height="9.65" fill="#eeeef1"/>
<rect x="295.43" y="274.50" width="12.77" height="9.65" fill="#eeeef1"/>
<rect x="308.60" y="274.50" width="12.77" height="9.65" fill="#eeeef1"/>
<rect x="321.77" y="274.50" width="12.77" height="9.65" fill="#eeeef1"/>
<rect x="334.94" y="274.50" width="12.77" height="9.65" fill="#eeeef1"/>
<rect x="348.11" y="274.50" width="12.77" height="9.65" fill="#eeeef1"/>
<rect x="45.20" y="284.66" width="12.77" height="9.65" fill="#eeeef1"/>
<rect x="58.37" y="284.66" width="12.77" height="9.65" fill="#eeeef1"/>
<rect x="71.54" y="284.66" width="12.77" height="9.65" fill="#eeeef1"/>
<rect x="84.71" y="284.66" width="12.77" height="9.65" fill="#eeeef1"/>
<rect x="97.88" y="284.66" width="12.77" height="9.65" fill="#eeeef1"/>
<rect x="111.05" y="284.66" width="12.77" height="9.65" fill="#eeeef1"/>
<rect x="124.22" y="284.66" width="12.77" height="9.65" fill="#eeeef1"/>
<rect x="137.39" y="284.66" width="12.77" height="9.65" fill="#eeeef1"/>
<rect x="150.56" y="284.66" width="12.77" height="9.65" fill="#eeeef1"/>
<rect x="163.73" y="284.66" width="12.77" height="9.65" fill="#eeeef1"/>
<rect x="176.90" y="284.66" width="12.77" height="9.65" fill="#eeeef1"/>
<rect x="190.07" y="284.66" width="12.77" height="9.65" fill="#eeeef1"/>
<rect x="203.24" y="284.66" width="12.77" height="9.65" fill="#eeeef1"/>
<rect x="216.41" y="284.66" width="12.77" height="9.65" fill="#eeeef1"/>
<rect x="229.58" y="284.66" width="12.77" height="9.65" fill="#eeeef1"/>
<rect x="242.75" y="284.66" width="12.77" height="9.65" fill="#eeeef1"/>
<rect x="255.92" y="284.66" width="12.77" height="9.65" fill="#eeeef1"/>
<rect x="269.09" y="284.66" width="12.77" height="9.65" fill="#eeeef1"/>
<rect x="282.26" y="284.66" width="12.77" height="9.65" fill="#eeeef1"/>
<rect x="295.43" y="284.66" width="12.77" height="9.65" fill="#eeeef1"/>
<rect x="308.60" y="284.66" width="12.77" height="9.65" fill="#eeeef1"/>
<rect x="321.77" y="284.66" width="12.77" height="9.65" fill="#eeeef1"/>
<rect x="334.94" y="284.66" width="12.77" height="9.65" fill="#eeeef1"/>
<rect x="348.11" y="284.66" width="12.77" height="9.65" fill="#eeeef1"/>
<rect x="45.20" y="294.81" width="12.77" height="9.65" fill="#eeeef1"/>
<rect x="58.37" y="294.81" width="12.77" height="9.65" fill="#eeeef1"/>
<rect x="71.54" y="294.81" width="12.77" height="9.65" fill="#eeeef1"/>
<rect x="84.71" y="294.81" width="12.77" height="9.65" fill="#eeeef1"/>
<rect x="97.88" y="294.81" width="12.77" height="9.65" fill="#eeeef1"/>
<rect x="111.05" y="294.81" width="12.77" height="9.65" fill="#eeeef1"/>
<rect x="124.22" y="294.81" width="12.77" height="9.65" fill="#eeeef1"/>
<rect x="137.39" y="294.81" width="12.77" height="9.65" fill="#eeeef1"/>
<rect x="150.56" y="294.81" width="12.77" height="9.65" fill="#eeeef1"/>
<rect x="163.73" y="294.81" width="12.77" height="9.65" fill="#eeeef1"/>
<rect x="176.90" y="294.81" width="12.77" height="9.65" fill="#eeeef1"/>
<rect x="190.07" y="294.81" width="12.77" height="9.65" fill="#eeeef1"/>
<rect x="203.24" y="294.81" width="12.77" height="9.65" fill="#eeeef1"/>
<rect x="216.41" y="294.81" width="12.77" height="9.65" fill="#eeeef1"/>
<rect x="229.58" y="294.81" width="12.77" height="9.65" fill="#eeeef1"/>
<rect x="242.75" y="294.81" width="12.77" height="9.65" fill="#eeeef1"/>
<rect x="255.92" y="294.81" width="12.77" height="9.65" fill="#eeeef1"/>
<rect x="269.09" y="294.81" width="12.77" height="9.65" fill="#eeeef1"/>
<rect x="282.26" y="294.81" width="12.77" height="9.65" fill="#eeeef1"/>
<rect x="295.43" y="294.81" width="12.77" height="9.65" fill="#eeeef1"/>
<rect x="308.60" y="294.81" width="12.77" height="9.65" fill="#eeeef1"/>
<rect x="321.77" y="294.81" width="12.77" height="9.65" fill="#eeeef1"/>
<rect x="334.94" y="294.81" width="12.77" height="9.65" fill="#eeeef1"/>
<rect x="348.11" y="294.81" width="12.77" height="9.65" fill="#eeeef1"/>
<rect x="45.20" y="304.97" width="12.77" height="9.65" fill="#eeeef1"/>
<rect x="58.37" y="304.97" width="12.77" height="9.65" fill="#eeeef1"/>
<rect x="71.54" y="304.97" width="12.77" height="9.65" fill="#eeeef1"/>
<rect x="84.71" y="304.97" width="12.77" height="9.65" fill="#eeeef1"/>
<rect x="97.88" y="304.97" width="12.77" height="9.65" fill="#eeeef1"/>
<rect x="111.05" y="304.97" width="12.77" height="9.65" fill="#eeeef1"/>
<rect x="124.22" y="304.97" width="12.77" height="9.65" fill="#eeeef1"/>
<rect x="137.39" y="304.97" width="12.77" height="9.65" fill="#eeeef1"/>
<rect x="150.56" y="304.97" width="12.77" height="9.65" fill="#eeeef1"/>
<rect x="163.73" y="304.97" width="12.77" height="9.65" fill="#eeeef1"/>
<rect x="176.90" y="304.97" width="12.77" height="9.65" fill="#eeeef1"/>
<rect x="190.07" y="304.97" width="12.77" height="9.65" fill="#eeeef1"/>
<rect x="203.24" y="304.97" width="12.77" height="9.65" fill="#eeeef1"/>
<rect x="216.41" y="304.97" width="12.77" height="9.65" fill="#eeeef1"/>
<rect x="229.58" y="304.97" width="12.77" height="9.65" fill="#eeeef1"/>
<rect x="242.75" y="304.97" width="12.77" height="9.65" fill="#eeeef1"/>
<rect x="255.92" y="304.97" width="12.77" height="9.65" fill="#eeeef1"/>
<rect x="269.09" y="304.97" width="12.77" height="9.65" fill="#eeeef1"/>
<rect x="282.26" y="304.97" width="12.77" height="9.65" fill="#eeeef1"/>
<rect x="295.43" y="304.97" width="12.77" height="9.65" fill="#eeeef1"/>
<rect x="308.60" y="304.97" width="12.77" height="9.65" fill="#eeeef1"/>
<rect x="321.77" y="304.97" width="12.77" height="9.65" fill="#eeeef1"/>
<rect x="334.94" y="304.97" width="12.77" height="9.65" fill="#eeeef1"/>
<rect x="348.11" y="304.97" width="12.77" height="9.65" fill="#eeeef1"/>
<rect x="45.20" y="315.12" width="12.77" height="9.65" fill="#eeeef1"/>
<rect x="58.37" y="315.12" width="12.77" height="9.65" fill="#eeeef1"/>
<rect x="71.54" y="315.12" width="12.77" height="9.65" fill="#eeeef1"/>
<rect x="84.71" y="315.12" width="12.77" height="9.65" fill="#eeeef1"/>
<rect x="97.88" y="315.12" width="12.77" height="9.65" fill="#eeeef1"/>
<rect x="111.05" y="315.12" width="12.77" height="9.65" fill="#eeeef1"/>
<rect x="124.22" y="315.12" width="12.77" height="9.65" fill="#eeeef1"/>
<rect x="137.39" y="315.12" width="12.77" height="9.65" fill="#eeeef1"/>
<rect x="150.56" y="315.12" width="12.77" height="9.65" fill="#eeeef1"/>
<rect x="163.73" y="315.12" width="12.77" height="9.65" fill="#eeeef1"/>
<rect x="176.90" y="315.12" width="12.77" height="9.65" fill="#eeeef1"/>
<rect x="190.07" y="315.12" width="12.77" height="9.65" fill="#eeeef1"/>
<rect x="203.24" y="315.12" width="12.77" height="9.65" fill="#eeeef1"/>
<rect x="216.41" y="315.12" width="12.77" height="9.65" fill="#eeeef1"/>
<rect x="229.58" y="315.12" width="12.77" height="9.65" fill="#eeeef1"/>
<rect x="242.75" y="315.12" width="12.77" height="9.65" fill="#eeeef1"/>
<rect x="255.92" y="315.12" width="12.77" height="9.65" fill="#eeeef1"/>
<rect x="269.09" y="315.12" width="12.77" height="9.65" fill="#eeeef1"/>
<rect x="282.26" y="315.12" width="12.77" height="9.65" fill="#eeeef1"/>
<rect x="295.43" y="315.12" width="12.77" height="9.65" fill="#eeeef1"/>
<rect x="308.60" y="315.12" width="12.77" height="9.65" fill="#eeeef1"/>
<rect x="321.77" y="315.12" width="12.77" height="9.65" fill="#eeeef1"/>
<rect x="334.94" y="315.12" width="12.77" height="9.65" fill="#eeeef1"/>
<rect x="348.11" y="315.12" width="12.77" height="9.65" fill="#eeeef1"/>
<rect x="45.20" y="325.28" width="12.77" height="9.65" fill="#eeeef1"/>
<rect x="58.37" y="325.28" width="12.77" height="9.65" fill="#eeeef1"/>
<rect x="71.54" y="325.28" width="12.77" height="9.65" fill="#eeeef1"/>
<rect x="84.71" y="325.28" width="12.77" height="9.65" fill="#eeeef1"/>
<rect x="97.88" y="325.28" width="12.77" height="9.65" fill="#eeeef1"/>
<rect x="111.05" y="325.28" width="12.77" height="9.65" fill="#eeeef1"/>
<rect x="124.22" y="325.28" width="12.77" height="9.65" fill="#eeeef1"/>
<rect x="137.39" y="325.28" width="12.77" height="9.65" fill="#eeeef1"/>
<rect x="150.56" y="325.28" width="12.77" height="9.65" fill="#eeeef1"/>
<rect x="163.73" y="325.28" width="12.77" height="9.65" fill="#eeeef1"/>
<rect x="176.90" y="325.28" width="12.77" height="9.65" fill="#eeeef1"/>
<rect x="190.07" y="325.28" width="12.77" height="9.65" fill="#eeeef1"/>
<rect x="203.24" y="325.28" width="12.77" height="9.65" fill="#eeeef1"/>
<rect x="216.41" y="325.28" width="12.77" height="9.65" fill="#eeeef1"/>
<rect x="229.58" y="325.28" width="12.77" height="9.65" fill="#eeeef1"/>
<rect x="242.75" y="325.28" width="12.77" height="9.65" fill="#eeeef1"/>
<rect x="255.92" y="325.28" width="12.77" height="9.65" fill="#eeeef1"/>
<rect x="269.09" y="325.28" width="12.77" height="9.65" fill="#eeeef1"/>
<rect x="282.26" y="325.28" width="12.77" height="9.65" fill="#eeeef1"/>
<rect x="295.43" y="325.28" width="12.77" height="9.65" fill="#eeeef1"/>
<rect x="308.60" y="325.28" width="12.77" height="9.65" fill="#eeeef1"/>
<rect x="321.77" y="325.28" width="12.77" height="9.65" fill="#eeeef1"/>
<rect x="334.94" y="325.28" width="12.77" height="9.65" fill="#eeeef1"/>
<rect x="348.11" y="325.28" width="12.77" height="9.65" fill="#eeeef1"/>
<rect x="45.20" y="335.44" width="12.77" height="9.65" fill="#eeeef1"/>
<rect x="58.37" y="335.44" width="12.77" height="9.65" fill="#eeeef1"/>
<rect x="71.54" y="335.44" width="12.77" height="9.65" fill="#eeeef1"/>
<rect x="84.71" y="335.44" width="12.77" height="9.65" fill="#eeeef1"/>
<rect x="97.88" y="335.44" width="12.77" height="9.65" fill="#eeeef1"/>
<rect x="111.05" y="335.44" width="12.77" height="9.65" fill="#eeeef1"/>
<rect x="124.22" y="335.44" width="12.77" height="9.65" fill="#eeeef1"/>
<rect x="137.39" y="335.44" width="12.77" height="9.65" fill="#eeeef1"/>
<rect x="150.56" y="335.44" width="12.77" height="9.65" fill="#eeeef1"/>
<rect x="163.73" y="335.44" width="12.77" height="9.65" fill="#eeeef1"/>
<rect x="176.90" y="335.44" width="12.77" height="9.65" fill="#eeeef1"/>
<rect x="190.07" y="335.44" width="12.77" height="9.65" fill="#eeeef1"/>
<rect x="203.24" y="335.44" width="12.77" height="9.65" fill="#eeeef1"/>
<rect x="216.41" y="335.44" width="12.77" height="9.65" fill="#eeeef1"/>
<rect x="229.58" y="335.44" width="12.77" height="9.65" fill="#eeeef1"/>
<rect x="242.75" y="335.44" width="12.77" height="9.65" fill="#eeeef1"/>
<rect x="255.92" y="335.44" width="12.77" height="9.65" fill="#eeeef1"/>
<rect x="269.09" y="335.44" width="12.77" height="9.65" fill="#eeeef1"/>
<rect x="282.26" y="335.44" width="12.77" height="9.65" fill="#eeeef1"/>
<rect x="295.43" y="335.44" width="12.77" height="9.65" fill="#eeeef1"/>
<rect x="308.60" y="335.44" width="12.77" height="9.65" fill="#eeeef1"/>
<rect x="321.77" y="335.44" width="12.77" height="9.65" fill="#eeeef1"/>
<rect x="334.94" y="335.44" width="12.77" height="9.65" fill="#eeeef1"/>
<rect x="348.11" y="335.44" width="12.77" height="9.65" fill="#eeeef1"/>
<rect x="45.20" y="345.59" width="12.77" height="9.65" fill="#eeeef1"/>
<rect x="58.37" y="345.59" width="12.77" height="9.65" fill="#eeeef1"/>
<rect x="71.54" y="345.59" width="12.77" height="9.65" fill="#eeeef1"/>
<rect x="84.71" y="345.59" width="12.77" height="9.65" fill="#eeeef1"/>
<rect x="97.88" y="345.59" width="12.77" height="9.65" fill="#eeeef1"/>
<rect x="111.05" y="345.59" width="12.77" height="9.65" fill="#eeeef1"/>
<rect x="124.22" y="345.59" width="12.77" height="9.65" fill="#eeeef1"/>
<rect x="137.39" y="345.59" width="12.77" height="9.65" fill="#eeeef1"/>
<rect x="150.56" y="345.59" width="12.77" height="9.65" fill="#eeeef1"/>
<rect x="163.73" y="345.59" width="12.77" height="9.65" fill="#eeeef1"/>
<rect x="176.90" y="345.59" width="12.77" height="9.65" fill="#eeeef1"/>
<rect x="190.07" y="345.59" width="12.77" height="9.65" fill="#eeeef1"/>
<rect x="203.24" y="345.59" width="12.77" height="9.65" fill="#eeeef1"/>
<rect x="216.41" y="345.59" width="12.77" height="9.65" fill="#eeeef1"/>
<rect x="229.58" y="345.59" width="12.77" height="9.65" fill="#eeeef1"/>
<rect x="242.75" y="345.59" width="12.77" height="9.65" fill="#eeeef1"/>
<rect x="255.92" y="345.59" width="12.77" height="9.65" fill="#eeeef1"/>
<rect x="269.09" y="345.59" width="12.77" height="9.65" fill="#eeeef1"/>
<rect x="282.26" y="345.59" width="12.77" height="9.65" fill="#eeeef1"/>
<rect x="295.43" y="345.59" width="12.77" height="9.65" fill="#eeeef1"/>
<rect x="308.60" y="345.59" width="12.77" height="9.65" fill="#eeeef1"/>
<rect x="321.77" y="345.59" width="12.77" height="9.65" fill="#eeeef1"/>
<rect x="334.94" y="345.59" width="12.77" height="9.65" fill="#eeeef1"/>
<rect x="348.11" y="345.59" width="12.77" height="9.65" fill="#eeeef1"/>
<rect x="45.20" y="355.75" width="12.77" height="9.65" fill="#eeeef1"/>
<rect x="58.37" y="355.75" width="12.77" height="9.65" fill="#eeeef1"/>
<rect x="71.54" y="355.75" width="12.77" height="9.65" fill="#eeeef1"/>
<rect x="84.71" y="355.75" width="12.77" height="9.65" fill="#eeeef1"/>
<rect x="97.88" y="355.75" width="12.77" height="9.65" fill="#eeeef1"/>
<rect x="111.05" y="355.75" width="12.77" height="9.65" fill="#eeeef1"/>
<rect x="124.22" y="355.75" width="12.77" height="9.65" fill="#eeeef1"/>
<rect x="137.39" y="355.75" width="12.77" height="9.65" fill="#eeeef1"/>
<rect x="150.56" y="355.75" width="12.77" height="9.65" fill="#eeeef1"/>
<rect x="163.73" y="355.75" width="12.77" height="9.65" fill="#eeeef1"/>
<rect x="176.90" y="355.75" width="12.77" height="9.65" fill="#eeeef1"/>
<rect x="190.07" y="355.75" width="12.77" height="9.65" fill="#eeeef1"/>
<rect x="203.24" y="355.75" width="12.77" height="9.65" fill="#eeeef1"/>
<rect x="216.41" y="355.75" width="12.77" height="9.65" fill="#eeeef1"/>
<rect x="229.58" y="355.75" width="12.77" height="9.65" fill="#eeeef1"/>
<rect x="242.75" y="355.75" width="12.77" height="9.65" fill="#eeeef1"/>
<rect x="255.92" y="355.75" width="12.77" height="9.65" fill="#eeeef1"/>
<rect x="269.09" y="355.75" width="12.77" height="9.65" fill="#eeeef1"/>
<rect x="282.26" y="355.75" width="12.77" height="9.65" fill="#eeeef1"/>
<rect x="295.43" y="355.75" width="12.77" height="9.65" fill="#eeeef1"/>
<rect x="308.60" y="355.75" width="12.77" height="9.65" fill="#eeeef1"/>
<rect x="321.77" y="355.75" width="12.77" height="9.65" fill="#eeeef1"/>
<rect x="334.94" y="355.75" width="12.77" height="9.65" fill="#eeeef1"/>
<rect x="348.11" y="355.75" width="12.77" height="9.65" fill="#eeeef1"/>
<rect x="45.20" y="365.90" width="12.77" height="9.65" fill="#eeeef1"/>
<rect x="58.37" y="365.90" width="12.77" height="9.65" fill="#eeeef1"/>
<rect x="71.54" y="365.90" width="12.77" height="9.65" fill="#eeeef1"/>
<rect x="84.71" y="365.90" width="12.77" height="9.65" fill="#eeeef1"/>
<rect x="97.88" y="365.90" width="12.77" height="9.65" fill="#eeeef1"/>
<rect x="111.05" y="365.90" width="12.77" height="9.65" fill="#eeeef1"/>
<rect x="124.22" y="365.90" width="12.77" height="9.65" fill="#eeeef1"/>
<rect x="137.39" y="365.90" width="12.77" height="9.65" fill="#eeeef1"/>
<rect x="150.56" y="365.90" width="12.77" height="9.65" fill="#eeeef1"/>
<rect x="163.73" y="365.90" width="12.77" height="9.65" fill="#eeeef1"/>
<rect x="176.90" y="365.90" width="12.77" height="9.65" fill="#eeeef1"/>
<rect x="190.07" y="365.90" width="12.77" height="9.65" fill="#eeeef1"/>
<rect x="203.24" y="365.90" width="12.77" height="9.65" fill="#eeeef1"/>
<rect x="216.41" y="365.90" width="12.77" height="9.65" fill="#eeeef1"/>
<rect x="229.58" y="365.90" width="12.77" height="9.65" fill="#eeeef1"/>
<rect x="242.75" y="365.90" width="12.77" height="9.65" fill="#eeeef1"/>
<rect x="255.92" y="365.90" width="12.77" height="9.65" fill="#eeeef1"/>
<rect x="269.09" y="365.90" width="12.77" height="9.65" fill="#eeeef1"/>
<rect x="282.26" y="365.90" width="12.77" height="9.65" fill="#eeeef1"/>
<rect x="295.43" y="365.90" width="12.77" height="9.65" fill="#eeeef1"/>
<rect x="308.60" y="365.90" width="12.77" height="9.65" fill="#eeeef1"/>
<rect x="321.77" y="365.90" width="12.77" height="9.65" fill="#eeeef1"/>
<rect x="334.94" y="365.90" width="12.77" height="9.65" fill="#eeeef1"/>
<rect x="348.11" y="365.90" width="12.77" height="9.65" fill="#eeeef1"/>
<rect x="45.20" y="376.06" width="12.77" height="9.65" fill="#eeeef1"/>
<rect x="58.37" y="376.06" width="12.77" height="9.65" fill="#eeeef1"/>
<rect x="71.54" y="376.06" width="12.77" height="9.65" fill="#eeeef1"/>
<rect x="84.71" y="376.06" width="12.77" height="9.65" fill="#eeeef1"/>
<rect x="97.88" y="376.06" width="12.77" height="9.65" fill="#eeeef1"/>
<rect x="111.05" y="376.06" width="12.77" height="9.65" fill="#eeeef1"/>
<rect x="124.22" y="376.06" width="12.77" height="9.65" fill="#eeeef1"/>
<rect x="137.39" y="376.06" width="12.77" height="9.65" fill="#eeeef1"/>
<rect x="150.56" y="376.06" width="12.77" height="9.65" fill="#eeeef1"/>
<rect x="163.73" y="376.06" width="12.77" height="9.65" fill="#eeeef1"/>
<rect x="176.90" y="376.06" width="12.77" height="9.65" fill="#eeeef1"/>
<rect x="190.07" y="376.06" width="12.77" height="9.65" fill="#eeeef1"/>
<rect x="203.24" y="376.06" width="12.77" height="9.65" fill="#eeeef1"/>
<rect x="216.41" y="376.06" width="12.77" height="9.65" fill="#eeeef1"/>
<rect x="229.58" y="376.06" width="12.77" height="9.65" fill="#eeeef1"/>
<rect x="242.75" y="376.06" width="12.77" height="9.65" fill="#eeeef1"/>
<rect x="255.92" y="376.06" width="12.77" height="9.65" fill="#eeeef1"/>
<rect x="269.09" y="376.06" width="12.77" height="9.65" fill="#eeeef1"/>
<rect x="282.26" y="376.06" width="12.77" height="9.65" fill="#eeeef1"/>
<rect x="295.43" y="376.06" width="12.77" height="9.65" fill="#eeeef1"/>
<rect x="308.60" y="376.06" width="12.77" height="9.65" fill="#eeeef1"/>
<rect x="321.77" y="376.06" width="12.77" height="9.65" fill="#eeeef1"/>
<rect x="334.94" y="376.06" width="12.77" height="9.65" fill="#eeeef1"/>
<rect x="348.11" y="376.06" width="12.77" height="9.65" fill="#eeeef1"/>
<rect x="45.20" y="386.21" width="12.77" height="9.65" fill="#eeeef1"/>
<rect x="58.37" y="386.21" width="12.77" height="9.65" fill="#eeeef1"/>
<rect x="71.54" y="386.21" width="12.77" height="9.65" fill="#eeeef1"/>
<rect x="84.71" y="386.21" width="12.77" height="9.65" fill="#eeeef1"/>
<rect x="97.88" y="386.21" width="12.77" height="9.65" fill="#eeeef1"/>
<rect x="111.05" y="386.21" width="12.77" height="9.65" fill="#eeeef1"/>
<rect x="124.22" y="386.21" width="12.77" height="9.65" fill="#eeeef1"/>
<rect x="137.39" y="386.21" width="12.77" height="9.65" fill="#eeeef1"/>
<rect x="150.56" y="386.21" width="12.77" height="9.65" fill="#eeeef1"/>
<rect x="163.73" y="386.21" width="12.77" height="9.65" fill="#eeeef1"/>
<rect x="176.90" y="386.21" width="12.77" height="9.65" fill="#eeeef1"/>
<rect x="190.07" y="386.21" width="12.77" height="9.65" fill="#eeeef1"/>
<rect x="203.24" y="386.21" width="12.77" height="9.65" fill="#eeeef1"/>
<rect x="216.41" y="386.21" width="12.77" height="9.65" fill="#eeeef1"/>
<rect x="229.58" y="386.21" width="12.77" height="9.65" fill="#eeeef1"/>
<rect x="242.75" y="386.21" width="12.77" height="9.65" fill="#eeeef1"/>
<rect x="255.92" y="386.21" width="12.77" height="9.65" fill="#eeeef1"/>
<rect x="269.09" y="386.21" width="12.77" height="9.65" fill="#eeeef1"/>
<rect x="282.26" y="386.21" width="12.77" height="9.65" fill="#eeeef1"/>
<rect x="295.43" y="386.21" width="12.77" height="9.65" fill="#eeeef1"/>
<rect x="308.60" y="386.21" width="12.77" height="9.65" fill="#eeeef1"/>
<rect x="321.77" y="386.21" width="12.77" height="9.65" fill="#eeeef1"/>
<rect x="334.94" y="386.21" width="12.77" height="9.65" fill="#eeeef1"/>
<rect x="348.11" y="386.21" width="12.77" height="9.65" fill="#eeeef1"/>
<rect x="45.20" y="396.36" width="12.77" height="9.65" fill="#eeeef1"/>
<rect x="58.37" y="396.36" width="12.77" height="9.65" fill="#eeeef1"/>
<rect x="71.54" y="396.36" width="12.77" height="9.65" fill="#eeeef1"/>
<rect x="84.71" y="396.36" width="12.77" height="9.65" fill="#eeeef1"/>
<rect x="97.88" y="396.36" width="12.77" height="9.65" fill="#eeeef1"/>
<rect x="111.05" y="396.36" width="12.77" height="9.65" fill="#eeeef1"/>
<rect x="124.22" y="396.36" width="12.77" height="9.65" fill="#eeeef1"/>
<rect x="137.39" y="396.36" width="12.77" height="9.65" fill="#eeeef1"/>
<rect x="150.56" y="396.36" width="12.77" height="9.65" fill="#eeeef1"/>
<rect x="163.73" y="396.36" width="12.77" height="9.65" fill="#eeeef1"/>
<rect x="176.90" y="396.36" width="12.77" height="9.65" fill="#eeeef1"/>
<rect x="190.07" y="396.36" width="12.77" height="9.65" fill="#eeeef1"/>
<rect x="203.24" y="396.36" width="12.77" height="9.65" fill="#eeeef1"/>
<rect x="216.41" y="396.36" width="12.77" height="9.65" fill="#eeeef1"/>
<rect x="229.58" y="396.36" width="12.77" height="9.65" fill="#eeeef1"/>
<rect x="242.75" y="396.36" width="12.77" height="9.65" fill="#eeeef1"/>
<rect x="255.92" y="396.36" width="12.77" height="9.65" fill="#eeeef1"/>
<rect x="269.09" y="396.36" width="12.77" height="9.65" fill="#eeeef1"/>
<rect x="282.26" y="396.36" width="12.77" height="9.65" fill="#eeeef1"/>
<rect x="295.43" y="396.36" width="12.77" height="9.65" fill="#eeeef1"/>
<rect x="308.60" y="396.36" width="12.77" height="9.65" fill="#eeeef1"/>
<rect x="321.77" y="396.36" width="12.77" height="9.65" fill="#eeeef1"/>
<rect x="334.94" y="396.36" width="12.77" height="9.65" fill="#eeeef1"/>
<rect x="348.11" y="396.36" width="12.77" height="9.65" fill="#eeeef1"/>
<rect x="45.20" y="406.52" width="12.77" height="9.65" fill="#eeeef1"/>
<rect x="58.37" y="406.52" width="12.77" height="9.65" fill="#eeeef1"/>
<rect x="71.54" y="406.52" width="12.77" height="9.65" fill="#eeeef1"/>
<rect x="84.71" y="406.52" width="12.77" height="9.65" fill="#eeeef1"/>
<rect x="97.88" y="406.52" width="12.77" height="9.65" fill="#eeeef1"/>
<rect x="111.05" y="406.52" width="12.77" height="9.65" fill="#eeeef1"/>
<rect x="124.22" y="406.52" width="12.77" height="9.65" fill="#eeeef1"/>
<rect x="137.39" y="406.52" width="12.77" height="9.65" fill="#eeeef1"/>
<rect x="150.56" y="406.52" width="12.77" height="9.65" fill="#eeeef1"/>
<rect x="163.73" y="406.52" width="12.77" height="9.65" fill="#eeeef1"/>
<rect x="176.90" y="406.52" width="12.77" height="9.65" fill="#eeeef1"/>
<rect x="190.07" y="406.52" width="12.77" height="9.65" fill="#eeeef1"/>
<rect x="203.24" y="406.52" width="12.77" height="9.65" fill="#eeeef1"/>
<rect x="216.41" y="406.52" width="12.77" height="9.65" fill="#eeeef1"/>
<rect x="229.58" y="406.52" width="12.77" height="9.65" fill="#eeeef1"/>
<rect x="242.75" y="406.52" width="12.77" height="9.65" fill="#eeeef1"/>
<rect x="255.92" y="406.52" width="12.77" height="9.65" fill="#eeeef1"/>
<rect x="269.09" y="406.52" width="12.77" height="9.65" fill="#eeeef1"/>
<rect x="282.26" y="406.52" width="12.77" height="9.65" fill="#eeeef1"/>
<rect x="295.43" y="406.52" width="12.77" height="9.65" fill="#eeeef1"/>
<rect x="308.60" y="406.52" width="12.77" height="9.65" fill="#eeeef1"/>
<rect x="321.77" y="406.52" width="12.77" height="9.65" fill="#eeeef1"/>
<rect x="334.94" y="406.52" width="12.77" height="9.65" fill="#eeeef1"/>
<rect x="348.11" y="406.52" width="12.77" height="9.65" fill="#eeeef1"/>
<rect x="45.20" y="416.67" width="12.77" height="9.65" fill="#eeeef1"/>
<rect x="58.37" y="416.67" width="12.77" height="9.65" fill="#eeeef1"/>
<rect x="71.54" y="416.67" width="12.77" height="9.65" fill="#eeeef1"/>
<rect x="84.71" y="416.67" width="12.77" height="9.65" fill="#eeeef1"/>
<rect x="97.88" y="416.67" width="12.77" height="9.65" fill="#eeeef1"/>
<rect x="111.05" y="416.67" width="12.77" height="9.65" fill="#eeeef1"/>
<rect x="124.22" y="416.67" width="12.77" height="9.65" fill="#eeeef1"/>
<rect x="137.39" y="416.67" width="12.77" height="9.65" fill="#eeeef1"/>
<rect x="150.56" y="416.67" width="12.77" height="9.65" fill="#eeeef1"/>
<rect x="163.73" y="416.67" width="12.77" height="9.65" fill="#eeeef1"/>
<rect x="176.90" y="416.67" width="12.77" height="9.65" fill="#eeeef1"/>
<rect x="190.07" y="416.67" width="12.77" height="9.65" fill="#eeeef1"/>
<rect x="203.24" y="416.67" width="12.77" height="9.65" fill="#eeeef1"/>
<rect x="216.41" y="416.67" width="12.77" height="9.65" fill="#eeeef1"/>
<rect x="229.58" y="416.67" width="12.77" height="9.65" fill="#eeeef1"/>
<rect x="242.75" y="416.67" width="12.77" height="9.65" fill="#eeeef1"/>
<rect x="255.92" y="416.67" width="12.77" height="9.65" fill="#eeeef1"/>
<rect x="269.09" y="416.67" width="12.77" height="9.65" fill="#eeeef1"/>
<rect x="282.26" y="416.67" width="12.77" height="9.65" fill="#eeeef1"/>
<rect x="295.43" y="416.67" width="12.77" height="9.65" fill="#eeeef1"/>
<rect x="308.60" y="416.67" width="12.77" height="9.65" fill="#eeeef1"/>
<rect x="321.77" y="416.67" width="12.77" height="9.65" fill="#eeeef1"/>
<rect x="334.94" y="416.67" width="12.77" height="9.65" fill="#eeeef1"/>
<rect x="348.11" y="416.67" width="12.77" height="9.65" fill="#eeeef1"/>
<rect x="45.20" y="426.83" width="12.77" height="9.65" fill="#eeeef1"/>
<rect x="58.37" y="426.83" width="12.77" height="9.65" fill="#eeeef1"/>
<rect x="71.54" y="426.83" width="12.77" height="9.65" fill="#eeeef1"/>
<rect x="84.71" y="426.83" width="12.77" height="9.65" fill="#eeeef1"/>
<rect x="97.88" y="426.83" width="12.77" height="9.65" fill="#eeeef1"/>
<rect x="111.05" y="426.83" width="12.77" height="9.65" fill="#eeeef1"/>
<rect x="124.22" y="426.83" width="12.77" height="9.65" fill="#eeeef1"/>
<rect x="137.39" y="426.83" width="12.77" height="9.65" fill="#eeeef1"/>
<rect x="150.56" y="426.83" width="12.77" height="9.65" fill="#eeeef1"/>
<rect x="163.73" y="426.83" width="12.77" height="9.65" fill="#eeeef1"/>
<rect x="176.90" y="426.83" width="12.77" height="9.65" fill="#eeeef1"/>
<rect x="190.07" y="426.83" width="12.77" height="9.65" fill="#eeeef1"/>
<rect x="203.24" y="426.83" width="12.77" height="9.65" fill="#eeeef1"/>
<rect x="216.41" y="426.83" width="12.77" height="9.65" fill="#eeeef1"/>
<rect x="229.58" y="426.83" width="12.77" height="9.65" fill="#eeeef1"/>
<rect x="242.75" y="426.83" width="12.77" height="9.65" fill="#eeeef1"/>
<rect x="255.92" y="426.83" width="12.77" height="9.65" fill="#eeeef1"/>
<rect x="269.09" y="426.83" width="12.77" height="9.65" fill="#eeeef1"/>
<rect x="282.26" y="426.83" width="12.77" height="9.65" fill="#eeeef1"/>
<rect x="295.43" y="426.83" width="12.77" height="9.65" fill="#eeeef1"/>
<rect x="308.60" y="426.83" width="12.77" height="9.65" fill="#eeeef1"/>
<rect x="321.77" y="426.83" width="12.77" height="9.65" fill="#eeeef1"/>
<rect x="334.94" y="426.83" width="12.77" height="9.65" fill="#eeeef1"/>
<rect x="348.11" y="426.83" width="12.77" height="9.65" fill="#eeeef1"/>
<rect x="45.20" y="436.98" width="12.77" height="9.65" fill="#eeeef1"/>
<rect x="58.37" y="436.98" width="12.77" height="9.65" fill="#eeeef1"/>
<rect x="71.54" y="436.98" width="12.77" height="9.65" fill="#eeeef1"/>
<rect x="84.71" y="436.98" width="12.77" height="9.65" fill="#eeeef1"/>
<rect x="97.88" y="436.98" width="12.77" height="9.65" fill="#eeeef1"/>
<rect x="111.05" y="436.98" width="12.77" height="9.65" fill="#eeeef1"/>
<rect x="124.22" y="436.98" width="12.77" height="9.65" fill="#eeeef1"/>
<rect x="137.39" y="436.98" width="12.77" height="9.65" fill="#eeeef1"/>
<rect x="150.56" y="436.98" width="12.77" height="9.65" fill="#eeeef1"/>
<rect x="163.73" y="436.98" width="12.77" height="9.65" fill="#eeeef1"/>
<rect x="176.90" y="436.98" width="12.77" height="9.65" fill="#eeeef1"/>
<rect x="190.07" y="436.98" width="12.77" height="9.65" fill="#eeeef1"/>
<rect x="203.24" y="436.98" width="12.77" height="9.65" fill="#eeeef1"/>
<rect x="216.41" y="436.98" width="12.77" height="9.65" fill="#eeeef1"/>
<rect x="229.58" y="436.98" width="12.77" height="9.65" fill="#eeeef1"/>
<rect x="242.75" y="436.98" width="12.77" height="9.65" fill="#eeeef1"/>
<rect x="255.92" y="436.98" width="12.77" height="9.65" fill="#eeeef1"/>
<rect x="269.09" y="436.98" width="12.77" height="9.65" fill="#eeeef1"/>
<rect x="282.26" y="436.98" width="12.77" height="9.65" fill="#eeeef1"/>
<rect x="295.43" y="436.98" width="12.77" height="9.65" fill="#eeeef1"/>
<rect x="308.60" y="436.98" width="12.77" height="9.65" fill="#eeeef1"/>
<rect x="321.77" y="436.98" width="12.77" height="9.65" fill="#eeeef1"/>
<rect x="334.94" y="436.98" width="12.77" height="9.65" fill="#eeeef1"/>
<rect x="348.11" y="436.98" width="12.77" height="9.65" fill="#eeeef1"/>
<rect x="45.45" y="61.30" width="12.42" height="9.46" fill="#1f3a6e"/>
<rect x="45.95" y="61.80" width="11.42" height="8.46" fill="#2e4a7b"/>
<rect x="58.62" y="61.30" width="12.42" height="9.46" fill="#1f3a6e"/>
<rect x="59.12" y="61.80" width="11.42" height="8.46" fill="#2e4a7b"/>
<rect x="71.79" y="61.30" width="12.42" height="9.46" fill="#1f3a6e"/>
<rect x="72.29" y="61.80" width="11.42" height="8.46" fill="#2e4a7b"/>
<rect x="84.96" y="61.30" width="12.42" height="9.46" fill="#1f3a6e"/>
<rect x="85.46" y="61.80" width="11.42" height="8.46" fill="#2e4a7b"/>
<rect x="98.13" y="61.30" width="12.42" height="9.46" fill="#1f3a6e"/>
<rect x="98.63" y="61.80" width="11.42" height="8.46" fill="#2e4a7b"/>
<rect x="111.30" y="61.30" width="12.42" height="9.46" fill="#1f3a6e"/>
<rect x="111.80" y="61.80" width="11.42" height="8.46" fill="#2e4a7b"/>
<rect x="124.47" y="61.30" width="12.42" height="9.46" fill="#1f3a6e"/>
<rect x="124.97" y="61.80" width="11.42" height="8.46" fill="#2e4a7b"/>
<rect x="137.64" y="61.30" width="12.42" height="9.46" fill="#1f3a6e"/>
<rect x="138.14" y="61.80" width="11.42" height="8.46" fill="#2e4a7b"/>
<rect x="150.81" y="61.30" width="12.42" height="9.46" fill="#1f3a6e"/>
<rect x="151.31" y="61.80" width="11.42" height="8.46" fill="#2e4a7b"/>
<rect x="163.98" y="61.30" width="12.42" height="9.46" fill="#1f3a6e"/>
<rect x="164.48" y="61.80" width="11.42" height="8.46" fill="#2e4a7b"/>
<rect x="177.15" y="61.30" width="12.42" height="9.46" fill="#1f3a6e"/>
<rect x="177.65" y="61.80" width="11.42" height="8.46" fill="#2e4a7b"/>
<rect x="203.49" y="61.30" width="12.42" height="9.46" fill="#1f3a6e"/>
<rect x="203.99" y="61.80" width="11.42" height="8.46" fill="#2e4a7b"/>
<rect x="216.66" y="61.30" width="12.42" height="9.46" fill="#1f3a6e"/>
<rect x="217.16" y="61.80" width="11.42" height="8.46" fill="#2e4a7b"/>
<rect x="229.83" y="61.30" width="12.42" height="9.46" fill="#1f3a6e"/>
<rect x="230.33" y="61.80" width="11.42" height="8.46" fill="#2e4a7b"/>
<rect x="45.45" y="71.45" width="12.42" height="9.46" fill="#1f3a6e"/>
<rect x="45.95" y="71.95" width="11.42" height="8.46" fill="#2e4a7b"/>
<rect x="58.62" y="71.45" width="12.42" height="9.46" fill="#1f3a6e"/>
<rect x="59.12" y="71.95" width="11.42" height="8.46" fill="#2e4a7b"/>
<rect x="71.79" y="71.45" width="12.42" height="9.46" fill="#1f3a6e"/>
<rect x="72.29" y="71.95" width="11.42" height="8.46" fill="#2e4a7b"/>
<rect x="84.96" y="74.28" width="12.42" height="3.60" fill="#a3002a"/>
<rect x="190.32" y="71.45" width="12.42" height="9.46" fill="#1f3a6e"/>
<rect x="190.82" y="71.95" width="11.42" height="8.46" fill="#2e4a7b"/>
<rect x="190.32" y="74.28" width="12.42" height="3.60" fill="#a3002a"/>
<circle cx="196.56" cy="76.03" r="2.15" fill="#f5c518" stroke="#1c2f60" stroke-width="0.6"/>
<rect x="243.00" y="71.45" width="12.42" height="9.46" fill="#1f3a6e"/>
<rect x="243.50" y="71.95" width="11.42" height="8.46" fill="#2e4a7b"/>
<rect x="256.17" y="71.45" width="12.42" height="9.46" fill="#1f3a6e"/>
<rect x="256.67" y="71.95" width="11.42" height="8.46" fill="#2e4a7b"/>
<rect x="269.34" y="71.45" width="12.42" height="9.46" fill="#1f3a6e"/>
<rect x="269.84" y="71.95" width="11.42" height="8.46" fill="#2e4a7b"/>
<rect x="282.51" y="71.45" width="12.42" height="9.46" fill="#1f3a6e"/>
<rect x="283.01" y="71.95" width="11.42" height="8.46" fill="#2e4a7b"/>
<rect x="45.45" y="81.61" width="12.42" height="9.46" fill="#579a38"/>
<rect x="45.95" y="82.11" width="11.42" height="8.46" fill="#68ad45"/>
<rect x="58.62" y="84.44" width="12.42" height="3.60" fill="#a3002a"/>
<rect x="71.79" y="81.61" width="12.42" height="9.46" fill="#3d4357"/>
<rect x="72.29" y="82.11" width="11.42" height="8.46" fill="#4f5567"/>
<circle cx="78.02" cy="86.19" r="2.15" fill="#f5c518" stroke="#1c2f60" stroke-width="0.6"/>
<rect x="98.13" y="81.61" width="12.42" height="9.46" fill="#1f3a6e"/>
<rect x="98.63" y="82.11" width="11.42" height="8.46" fill="#2e4a7b"/>
<rect x="111.30" y="81.61" width="12.42" height="9.46" fill="#3d4357"/>
<rect x="111.80" y="82.11" width="11.42" height="8.46" fill="#4f5567"/>
<rect x="124.47" y="81.61" width="12.42" height="9.46" fill="#1f3a6e"/>
<rect x="124.97" y="82.11" width="11.42" height="8.46" fill="#2e4a7b"/>
<circle cx="130.70" cy="86.19" r="2.15" fill="#f5c518" stroke="#1c2f60" stroke-width="0.6"/>
<rect x="137.64" y="84.44" width="12.42" height="3.60" fill="#a3002a"/>
<rect x="45.45" y="91.76" width="12.42" height="9.46" fill="#1f3a6e"/>
<rect x="45.95" y="92.26" width="11.42" height="8.46" fill="#2e4a7b"/>
<rect x="150.81" y="94.59" width="12.42" height="3.60" fill="#a3002a"/>
<rect x="190.32" y="91.76" width="12.42" height="9.46" fill="#1f3a6e"/>
<rect x="190.82" y="92.26" width="11.42" height="8.46" fill="#2e4a7b"/>
<circle cx="196.56" cy="96.34" r="2.15" fill="#f5c518" stroke="#1c2f60" stroke-width="0.6"/>
<rect x="243.00" y="91.76" width="12.42" height="9.46" fill="#3d4357"/>
<rect x="243.50" y="92.26" width="11.42" height="8.46" fill="#4f5567"/>
<rect x="295.68" y="91.76" width="12.42" height="9.46" fill="#3d4357"/>
<rect x="296.18" y="92.26" width="11.42" height="8.46" fill="#4f5567"/>
<circle cx="301.92" cy="96.34" r="2.15" fill="#f5c518" stroke="#1c2f60" stroke-width="0.6"/>
<rect x="322.02" y="94.84" width="12.42" height="3.10" fill="#66a8dd"/>
<rect x="98.13" y="101.92" width="12.42" height="9.46" fill="#1f3a6e"/>
<rect x="98.63" y="102.42" width="11.42" height="8.46" fill="#2e4a7b"/>
<rect x="111.30" y="101.92" width="12.42" height="9.46" fill="#1f3a6e"/>
<rect x="111.80" y="102.42" width="11.42" height="8.46" fill="#2e4a7b"/>
<rect x="124.47" y="101.92" width="12.42" height="9.46" fill="#1f3a6e"/>
<rect x="124.97" y="102.42" width="11.42" height="8.46" fill="#2e4a7b"/>
<rect x="150.81" y="101.92" width="12.42" height="9.46" fill="#1f3a6e"/>
<rect x="151.31" y="102.42" width="11.42" height="8.46" fill="#2e4a7b"/>
<rect x="163.98" y="101.92" width="12.42" height="9.46" fill="#1f3a6e"/>
<rect x="164.48" y="102.42" width="11.42" height="8.46" fill="#2e4a7b"/>
<rect x="177.15" y="101.92" width="12.42" height="9.46" fill="#1f3a6e"/>
<rect x="177.65" y="102.42" width="11.42" height="8.46" fill="#2e4a7b"/>
<rect x="308.85" y="101.92" width="12.42" height="9.46" fill="#1f3a6e"/>
<rect x="309.35" y="102.42" width="11.42" height="8.46" fill="#2e4a7b"/>
<rect x="98.13" y="112.07" width="12.42" height="9.46" fill="#3d4357"/>
<rect x="98.63" y="112.57" width="11.42" height="8.46" fill="#4f5567"/>
<rect x="137.64" y="112.07" width="12.42" height="9.46" fill="#3d4357"/>
<rect x="138.14" y="112.57" width="11.42" height="8.46" fill="#4f5567"/>
<rect x="163.98" y="114.90" width="12.42" height="3.60" fill="#a3002a"/>
<rect x="190.32" y="114.90" width="12.42" height="3.60" fill="#a3002a"/>
<rect x="203.49" y="112.07" width="12.42" height="9.46" fill="#3d4357"/>
<rect x="203.99" y="112.57" width="11.42" height="8.46" fill="#4f5567"/>
<rect x="203.49" y="125.06" width="12.42" height="3.60" fill="#a3002a"/>
<rect x="256.17" y="125.06" width="12.42" height="3.60" fill="#a3002a"/>
<rect x="269.34" y="125.06" width="12.42" height="3.60" fill="#a3002a"/>
<rect x="322.02" y="125.06" width="12.42" height="3.60" fill="#a3002a"/>
<rect x="98.13" y="135.21" width="12.42" height="3.60" fill="#a3002a"/>
<rect x="177.15" y="132.38" width="12.42" height="9.46" fill="#3d4357"/>
<rect x="177.65" y="132.88" width="11.42" height="8.46" fill="#4f5567"/>
<rect x="190.32" y="135.21" width="12.42" height="3.60" fill="#a3002a"/>
<rect x="256.17" y="132.38" width="12.42" height="9.46" fill="#3d4357"/>
<rect x="256.67" y="132.88" width="11.42" height="8.46" fill="#4f5567"/>
<rect x="111.30" y="142.54" width="12.42" height="9.46" fill="#1f3a6e"/>
<rect x="111.80" y="143.04" width="11.42" height="8.46" fill="#2e4a7b"/>
<rect x="124.47" y="142.54" width="12.42" height="9.46" fill="#1f3a6e"/>
<rect x="124.97" y="143.04" width="11.42" height="8.46" fill="#2e4a7b"/>
<rect x="203.49" y="142.54" width="12.42" height="9.46" fill="#1f3a6e"/>
<rect x="203.99" y="143.04" width="11.42" height="8.46" fill="#2e4a7b"/>
<rect x="335.19" y="142.54" width="12.42" height="9.46" fill="#1f3a6e"/>
<rect x="335.69" y="143.04" width="11.42" height="8.46" fill="#2e4a7b"/>
<rect x="295.68" y="152.69" width="12.42" height="9.46" fill="#1f3a6e"/>
<rect x="296.18" y="153.19" width="11.42" height="8.46" fill="#2e4a7b"/>
<rect x="308.85" y="152.69" width="12.42" height="9.46" fill="#1f3a6e"/>
<rect x="309.35" y="153.19" width="11.42" height="8.46" fill="#2e4a7b"/>
<rect x="308.85" y="155.77" width="12.42" height="3.10" fill="#66a8dd"/>
<circle cx="315.08" cy="157.27" r="2.15" fill="#f5c518" stroke="#1c2f60" stroke-width="0.6"/>
<rect x="58.62" y="162.85" width="12.42" height="9.46" fill="#1f3a6e"/>
<rect x="59.12" y="163.35" width="11.42" height="8.46" fill="#2e4a7b"/>
<rect x="177.15" y="162.85" width="12.42" height="9.46" fill="#1f3a6e"/>
<rect x="177.65" y="163.35" width="11.42" height="8.46" fill="#2e4a7b"/>
<rect x="177.15" y="165.93" width="12.42" height="3.10" fill="#66a8dd"/>
<circle cx="183.38" cy="167.43" r="2.15" fill="#f5c518" stroke="#1c2f60" stroke-width="0.6"/>
<rect x="150.81" y="175.83" width="12.42" height="3.60" fill="#a3002a"/>
<rect x="177.15" y="173.00" width="12.42" height="9.46" fill="#3d4357"/>
<rect x="177.65" y="173.50" width="11.42" height="8.46" fill="#4f5567"/>
<rect x="308.85" y="173.00" width="12.42" height="9.46" fill="#3d4357"/>
<rect x="309.35" y="173.50" width="11.42" height="8.46" fill="#4f5567"/>
<rect x="150.81" y="183.16" width="12.42" height="9.46" fill="#3d4357"/>
<rect x="151.31" y="183.66" width="11.42" height="8.46" fill="#4f5567"/>
<rect x="177.15" y="183.16" width="12.42" height="9.46" fill="#1f3a6e"/>
<rect x="177.65" y="183.66" width="11.42" height="8.46" fill="#2e4a7b"/>
<rect x="216.66" y="183.16" width="12.42" height="9.46" fill="#1f3a6e"/>
<rect x="217.16" y="183.66" width="11.42" height="8.46" fill="#2e4a7b"/>
<rect x="111.30" y="193.31" width="12.42" height="9.46" fill="#3d4357"/>
<rect x="111.80" y="193.81" width="11.42" height="8.46" fill="#4f5567"/>
<rect x="124.47" y="196.39" width="12.42" height="3.10" fill="#66a8dd"/>
<rect x="203.49" y="193.31" width="12.42" height="9.46" fill="#1f3a6e"/>
<rect x="203.99" y="193.81" width="11.42" height="8.46" fill="#2e4a7b"/>
<rect x="71.79" y="203.47" width="12.42" height="9.46" fill="#3d4357"/>
<rect x="72.29" y="203.97" width="11.42" height="8.46" fill="#4f5567"/>
<rect x="150.81" y="203.47" width="12.42" height="9.46" fill="#1f3a6e"/>
<rect x="151.31" y="203.97" width="11.42" height="8.46" fill="#2e4a7b"/>
<rect x="71.79" y="213.62" width="12.42" height="9.46" fill="#1f3a6e"/>
<rect x="72.29" y="214.12" width="11.42" height="8.46" fill="#2e4a7b"/>
<rect x="177.15" y="213.62" width="12.42" height="9.46" fill="#1f3a6e"/>
<rect x="177.65" y="214.12" width="11.42" height="8.46" fill="#2e4a7b"/>
<rect x="84.96" y="223.78" width="12.42" height="9.46" fill="#1f3a6e"/>
<rect x="85.46" y="224.28" width="11.42" height="8.46" fill="#2e4a7b"/>
<rect x="335.19" y="223.78" width="12.42" height="9.46" fill="#1f3a6e"/>
<rect x="335.69" y="224.28" width="11.42" height="8.46" fill="#2e4a7b"/>
<rect x="71.79" y="233.94" width="12.42" height="9.46" fill="#1f3a6e"/>
<rect x="72.29" y="234.44" width="11.42" height="8.46" fill="#2e4a7b"/>
<rect x="177.15" y="233.94" width="12.42" height="9.46" fill="#1f3a6e"/>
<rect x="177.65" y="234.44" width="11.42" height="8.46" fill="#2e4a7b"/>
<rect x="150.81" y="244.09" width="12.42" height="9.46" fill="#1f3a6e"/>
<rect x="151.31" y="244.59" width="11.42" height="8.46" fill="#2e4a7b"/>
<rect x="335.19" y="244.09" width="12.42" height="9.46" fill="#1f3a6e"/>
<rect x="335.69" y="244.59" width="11.42" height="8.46" fill="#2e4a7b"/>
<rect x="269.34" y="254.25" width="12.42" height="9.46" fill="#1f3a6e"/>
<rect x="269.84" y="254.75" width="11.42" height="8.46" fill="#2e4a7b"/>
<rect x="308.85" y="254.25" width="12.42" height="9.46" fill="#1f3a6e"/>
<rect x="309.35" y="254.75" width="11.42" height="8.46" fill="#2e4a7b"/>
<rect x="71.79" y="264.40" width="12.42" height="9.46" fill="#1f3a6e"/>
<rect x="72.29" y="264.90" width="11.42" height="8.46" fill="#2e4a7b"/>
<rect x="335.19" y="264.40" width="12.42" height="9.46" fill="#1f3a6e"/>
<rect x="335.69" y="264.90" width="11.42" height="8.46" fill="#2e4a7b"/>
<rect x="137.64" y="274.56" width="12.42" height="9.46" fill="#1f3a6e"/>
<rect x="138.14" y="275.06" width="11.42" height="8.46" fill="#2e4a7b"/>
<rect x="295.68" y="274.56" width="12.42" height="9.46" fill="#1f3a6e"/>
<rect x="296.18" y="275.06" width="11.42" height="8.46" fill="#2e4a7b"/>
<rect x="58.62" y="284.71" width="12.42" height="9.46" fill="#c87a10"/>
<rect x="59.12" y="285.21" width="11.42" height="8.46" fill="#df8c1a"/>
<rect x="308.85" y="297.69" width="12.42" height="3.60" fill="#a3002a"/>
<rect x="229.83" y="305.02" width="12.42" height="9.46" fill="#1f3a6e"/>
<rect x="230.33" y="305.52" width="11.42" height="8.46" fill="#2e4a7b"/>
<rect x="111.30" y="315.17" width="12.42" height="9.46" fill="#3d4357"/>
<rect x="111.80" y="315.67" width="11.42" height="8.46" fill="#4f5567"/>
<rect x="308.85" y="328.16" width="12.42" height="3.60" fill="#a3002a"/>
<rect x="98.13" y="335.49" width="12.42" height="9.46" fill="#3d4357"/>
<rect x="98.63" y="335.99" width="11.42" height="8.46" fill="#4f5567"/>
<rect x="308.85" y="345.64" width="12.42" height="9.46" fill="#1f3a6e"/>
<rect x="309.35" y="346.14" width="11.42" height="8.46" fill="#2e4a7b"/>
<rect x="71.79" y="355.80" width="12.42" height="9.46" fill="#579a38"/>
<rect x="72.29" y="356.30" width="11.42" height="8.46" fill="#68ad45"/>
<rect x="98.13" y="365.95" width="12.42" height="9.46" fill="#1f3a6e"/>
<rect x="98.63" y="366.45" width="11.42" height="8.46" fill="#2e4a7b"/>
<rect x="111.30" y="376.11" width="12.42" height="9.46" fill="#3d4357"/>
<rect x="111.80" y="376.61" width="11.42" height="8.46" fill="#4f5567"/>
<rect x="282.51" y="386.26" width="12.42" height="9.46" fill="#1f3a6e"/>
<rect x="283.01" y="386.76" width="11.42" height="8.46" fill="#2e4a7b"/>
<rect x="137.64" y="396.41" width="12.42" height="9.46" fill="#3d4357"/>
<rect x="138.14" y="396.91" width="11.42" height="8.46" fill="#4f5567"/>
<rect x="295.68" y="406.57" width="12.42" height="9.46" fill="#1f3a6e"/>
<rect x="296.18" y="407.07" width="11.42" height="8.46" fill="#2e4a7b"/>
<rect x="98.13" y="416.72" width="12.42" height="9.46" fill="#1f3a6e"/>
<rect x="98.63" y="417.22" width="11.42" height="8.46" fill="#2e4a7b"/>
<rect x="203.49" y="429.71" width="12.42" height="3.60" fill="#a3002a"/>
<rect x="177.15" y="437.03" width="12.42" height="9.46" fill="#1f3a6e"/>
<rect x="177.65" y="437.53" width="11.42" height="8.46" fill="#2e4a7b"/>
<text x="365.20" y="68.96" font-size="8.55" text-anchor="start" fill="#111" color="#111" textLength="46.6" lengthAdjust="spacingAndGlyphs">JAK2-V617F</text>
<text x="41.00" y="68.63" font-size="8.6" text-anchor="end" fill="#111" color="#111">58%</text>
<text x="365.20" y="79.13" font-size="8.55" text-anchor="start" fill="#111" color="#111">TP53</text>
<text x="41.00" y="78.80" font-size="8.6" text-anchor="end" fill="#111" color="#111">38%</text>
<text x="365.20" y="89.29" font-size="8.55" text-anchor="start" fill="#111" color="#111">TET2</text>
<text x="41.00" y="88.98" font-size="8.6" text-anchor="end" fill="#111" color="#111">29%</text>
<text x="365.20" y="99.46" font-size="8.55" text-anchor="start" fill="#111" color="#111">EZH2</text>
<text x="41.00" y="99.16" font-size="8.6" text-anchor="end" fill="#111" color="#111">25%</text>
<text x="365.20" y="109.62" font-size="8.55" text-anchor="start" fill="#111" color="#111">SRSF2</text>
<text x="41.00" y="109.33" font-size="8.6" text-anchor="end" fill="#111" color="#111">29%</text>
<text x="365.20" y="119.79" font-size="8.55" text-anchor="start" fill="#111" color="#111">ASXL1</text>
<text x="41.00" y="119.50" font-size="8.6" text-anchor="end" fill="#111" color="#111">21%</text>
<text x="365.20" y="129.96" font-size="8.55" text-anchor="start" fill="#111" color="#111">CALR</text>
<text x="41.00" y="129.68" font-size="8.6" text-anchor="end" fill="#111" color="#111">17%</text>
<text x="365.20" y="140.12" font-size="8.55" text-anchor="start" fill="#111" color="#111">CUX1</text>
<text x="41.00" y="139.86" font-size="8.6" text-anchor="end" fill="#111" color="#111">17%</text>
<text x="365.20" y="150.29" font-size="8.55" text-anchor="start" fill="#111" color="#111">IDH1</text>
<text x="41.00" y="150.03" font-size="8.6" text-anchor="end" fill="#111" color="#111">17%</text>
<text x="365.20" y="160.45" font-size="8.55" text-anchor="start" fill="#111" color="#111">GATA2</text>
<text x="41.00" y="160.21" font-size="8.6" text-anchor="end" fill="#111" color="#111">8%</text>
<text x="365.20" y="170.62" font-size="8.55" text-anchor="start" fill="#111" color="#111">RUNX1</text>
<text x="41.00" y="170.38" font-size="8.6" text-anchor="end" fill="#111" color="#111">8%</text>
<text x="365.20" y="180.79" font-size="8.55" text-anchor="start" fill="#111" color="#111">ATRX</text>
<text x="41.00" y="180.56" font-size="8.6" text-anchor="end" fill="#111" color="#111">12%</text>
<text x="365.20" y="190.95" font-size="8.55" text-anchor="start" fill="#111" color="#111">PHF6</text>
<text x="41.00" y="190.73" font-size="8.6" text-anchor="end" fill="#111" color="#111">12%</text>
<text x="365.20" y="201.12" font-size="8.55" text-anchor="start" fill="#111" color="#111">STAG2</text>
<text x="41.00" y="200.91" font-size="8.6" text-anchor="end" fill="#111" color="#111">12%</text>
<text x="365.20" y="211.28" font-size="8.55" text-anchor="start" fill="#111" color="#111">CBL</text>
<text x="41.00" y="211.08" font-size="8.6" text-anchor="end" fill="#111" color="#111">8%</text>
<text x="365.20" y="221.45" font-size="8.55" text-anchor="start" fill="#111" color="#111">DNMT3A</text>
<text x="41.00" y="221.26" font-size="8.6" text-anchor="end" fill="#111" color="#111">8%</text>
<text x="365.20" y="231.62" font-size="8.55" text-anchor="start" fill="#111" color="#111">EGFR</text>
<text x="41.00" y="231.43" font-size="8.6" text-anchor="end" fill="#111" color="#111">8%</text>
<text x="365.20" y="241.78" font-size="8.55" text-anchor="start" fill="#111" color="#111">IDH2</text>
<text x="41.00" y="241.61" font-size="8.6" text-anchor="end" fill="#111" color="#111">8%</text>
<text x="365.20" y="251.95" font-size="8.55" text-anchor="start" fill="#111" color="#111">MPL</text>
<text x="41.00" y="251.78" font-size="8.6" text-anchor="end" fill="#111" color="#111">8%</text>
<text x="365.20" y="262.11" font-size="8.55" text-anchor="start" fill="#111" color="#111">NRAS</text>
<text x="41.00" y="261.95" font-size="8.6" text-anchor="end" fill="#111" color="#111">8%</text>
<text x="365.20" y="272.28" font-size="8.55" text-anchor="start" fill="#111" color="#111">SF3B1</text>
<text x="41.00" y="272.13" font-size="8.6" text-anchor="end" fill="#111" color="#111">8%</text>
<text x="365.20" y="282.45" font-size="8.55" text-anchor="start" fill="#111" color="#111">U2AF1</text>
<text x="41.00" y="282.31" font-size="8.6" text-anchor="end" fill="#111" color="#111">8%</text>
<text x="365.20" y="292.61" font-size="8.55" text-anchor="start" fill="#111" color="#111">BCL10</text>
<text x="41.00" y="292.48" font-size="8.6" text-anchor="end" fill="#111" color="#111">4%</text>
<text x="365.20" y="302.78" font-size="8.55" text-anchor="start" fill="#111" color="#111">CHEK2</text>
<text x="41.00" y="302.65" font-size="8.6" text-anchor="end" fill="#111" color="#111">4%</text>
<text x="365.20" y="312.94" font-size="8.55" text-anchor="start" fill="#111" color="#111">CSF3R</text>
<text x="41.00" y="312.83" font-size="8.6" text-anchor="end" fill="#111" color="#111">4%</text>
<text x="365.20" y="323.11" font-size="8.55" text-anchor="start" fill="#111" color="#111">CUL3</text>
<text x="41.00" y="323.00" font-size="8.6" text-anchor="end" fill="#111" color="#111">4%</text>
<text x="365.20" y="333.28" font-size="8.55" text-anchor="start" fill="#111" color="#111">ETV6</text>
<text x="41.00" y="333.18" font-size="8.6" text-anchor="end" fill="#111" color="#111">4%</text>
<text x="365.20" y="343.44" font-size="8.55" text-anchor="start" fill="#111" color="#111">FAT1</text>
<text x="41.00" y="343.36" font-size="8.6" text-anchor="end" fill="#111" color="#111">4%</text>
<text x="365.20" y="353.61" font-size="8.55" text-anchor="start" fill="#111" color="#111">GNAS</text>
<text x="41.00" y="353.53" font-size="8.6" text-anchor="end" fill="#111" color="#111">4%</text>
<text x="365.20" y="363.77" font-size="8.55" text-anchor="start" fill="#111" color="#111">KMT2C</text>
<text x="41.00" y="363.71" font-size="8.6" text-anchor="end" fill="#111" color="#111">4%</text>
<text x="365.20" y="373.94" font-size="8.55" text-anchor="start" fill="#111" color="#111">KRAS</text>
<text x="41.00" y="373.88" font-size="8.6" text-anchor="end" fill="#111" color="#111">4%</text>
<text x="365.20" y="384.11" font-size="8.55" text-anchor="start" fill="#111" color="#111">MED12</text>
<text x="41.00" y="384.06" font-size="8.6" text-anchor="end" fill="#111" color="#111">4%</text>
<text x="365.20" y="394.27" font-size="8.55" text-anchor="start" fill="#111" color="#111">NF1</text>
<text x="41.00" y="394.23" font-size="8.6" text-anchor="end" fill="#111" color="#111">4%</text>
<text x="365.20" y="404.44" font-size="8.55" text-anchor="start" fill="#111" color="#111">PMS2</text>
<text x="41.00" y="404.41" font-size="8.6" text-anchor="end" fill="#111" color="#111">4%</text>
<text x="365.20" y="414.60" font-size="8.55" text-anchor="start" fill="#111" color="#111">PTPN11</text>
<text x="41.00" y="414.58" font-size="8.6" text-anchor="end" fill="#111" color="#111">4%</text>
<text x="365.20" y="424.77" font-size="8.55" text-anchor="start" fill="#111" color="#111">SETBP1</text>
<text x="41.00" y="424.75" font-size="8.6" text-anchor="end" fill="#111" color="#111">4%</text>
<text x="365.20" y="434.94" font-size="8.55" text-anchor="start" fill="#111" color="#111">SH2B3</text>
<text x="41.00" y="434.93" font-size="8.6" text-anchor="end" fill="#111" color="#111">4%</text>
<text x="365.20" y="445.10" font-size="8.55" text-anchor="start" fill="#111" color="#111">STAT5B</text>
<text x="41.00" y="445.11" font-size="8.6" text-anchor="end" fill="#111" color="#111">4%</text>
<rect x="428.10" y="60.00" width="55.80" height="1.20" fill="#111"/>
<rect x="431.70" y="56.70" width="1.20" height="4.00" fill="#111"/>
<text x="432.30" y="53.90" font-size="8.2" text-anchor="middle" fill="#111" color="#111">0</text>
<rect x="449.00" y="56.70" width="1.20" height="4.00" fill="#111"/>
<text x="449.60" y="53.90" font-size="8.2" text-anchor="middle" fill="#111" color="#111">5</text>
<rect x="466.30" y="56.70" width="1.20" height="4.00" fill="#111"/>
<text x="466.90" y="53.90" font-size="8.2" text-anchor="middle" fill="#111" color="#111">10</text>
<rect x="432.30" y="63.30" width="48.34" height="5.10" fill="#2e4a7b" stroke="#1f3a6e" stroke-width="0.4"/>
<rect x="432.30" y="73.47" width="27.58" height="5.10" fill="#2e4a7b" stroke="#1f3a6e" stroke-width="0.4"/>
<rect x="459.98" y="73.47" width="6.82" height="5.10" fill="#a3002a" stroke="#8c0022" stroke-width="0.4"/>
<rect x="432.30" y="83.65" width="6.82" height="5.10" fill="#2e4a7b" stroke="#1f3a6e" stroke-width="0.4"/>
<rect x="439.22" y="83.65" width="3.36" height="5.10" fill="#68ad45" stroke="#579a38" stroke-width="0.4"/>
<rect x="442.68" y="83.65" width="6.82" height="5.10" fill="#4f5567" stroke="#3d4357" stroke-width="0.4"/>
<rect x="449.60" y="83.65" width="6.82" height="5.10" fill="#a3002a" stroke="#8c0022" stroke-width="0.4"/>
<rect x="432.30" y="93.83" width="10.28" height="5.10" fill="#2e4a7b" stroke="#1f3a6e" stroke-width="0.4"/>
<rect x="442.68" y="93.83" width="6.82" height="5.10" fill="#4f5567" stroke="#3d4357" stroke-width="0.4"/>
<rect x="449.60" y="93.83" width="3.36" height="5.10" fill="#66a8dd" stroke="#4f8fc8" stroke-width="0.4"/>
<rect x="453.06" y="93.83" width="3.36" height="5.10" fill="#a3002a" stroke="#8c0022" stroke-width="0.4"/>
<rect x="432.30" y="104.00" width="24.12" height="5.10" fill="#2e4a7b" stroke="#1f3a6e" stroke-width="0.4"/>
<rect x="432.30" y="114.17" width="10.28" height="5.10" fill="#4f5567" stroke="#3d4357" stroke-width="0.4"/>
<rect x="442.68" y="114.17" width="6.82" height="5.10" fill="#a3002a" stroke="#8c0022" stroke-width="0.4"/>
<rect x="432.30" y="124.35" width="13.74" height="5.10" fill="#a3002a" stroke="#8c0022" stroke-width="0.4"/>
<rect x="432.30" y="134.53" width="6.82" height="5.10" fill="#4f5567" stroke="#3d4357" stroke-width="0.4"/>
<rect x="439.22" y="134.53" width="6.82" height="5.10" fill="#a3002a" stroke="#8c0022" stroke-width="0.4"/>
<rect x="432.30" y="144.70" width="13.74" height="5.10" fill="#2e4a7b" stroke="#1f3a6e" stroke-width="0.4"/>
<rect x="432.30" y="154.88" width="6.82" height="5.10" fill="#2e4a7b" stroke="#1f3a6e" stroke-width="0.4"/>
<rect x="439.22" y="154.88" width="3.36" height="5.10" fill="#66a8dd" stroke="#4f8fc8" stroke-width="0.4"/>
<rect x="432.30" y="165.05" width="6.82" height="5.10" fill="#2e4a7b" stroke="#1f3a6e" stroke-width="0.4"/>
<rect x="439.22" y="165.05" width="3.36" height="5.10" fill="#66a8dd" stroke="#4f8fc8" stroke-width="0.4"/>
<rect x="432.30" y="175.23" width="6.82" height="5.10" fill="#4f5567" stroke="#3d4357" stroke-width="0.4"/>
<rect x="439.22" y="175.23" width="3.36" height="5.10" fill="#a3002a" stroke="#8c0022" stroke-width="0.4"/>
<rect x="432.30" y="185.40" width="6.82" height="5.10" fill="#2e4a7b" stroke="#1f3a6e" stroke-width="0.4"/>
<rect x="439.22" y="185.40" width="3.36" height="5.10" fill="#4f5567" stroke="#3d4357" stroke-width="0.4"/>
<rect x="432.30" y="195.57" width="3.36" height="5.10" fill="#2e4a7b" stroke="#1f3a6e" stroke-width="0.4"/>
<rect x="435.76" y="195.57" width="3.36" height="5.10" fill="#4f5567" stroke="#3d4357" stroke-width="0.4"/>
<rect x="439.22" y="195.57" width="3.36" height="5.10" fill="#66a8dd" stroke="#4f8fc8" stroke-width="0.4"/>
<rect x="432.30" y="205.75" width="3.36" height="5.10" fill="#2e4a7b" stroke="#1f3a6e" stroke-width="0.4"/>
<rect x="435.76" y="205.75" width="3.36" height="5.10" fill="#4f5567" stroke="#3d4357" stroke-width="0.4"/>
<rect x="432.30" y="215.93" width="6.82" height="5.10" fill="#2e4a7b" stroke="#1f3a6e" stroke-width="0.4"/>
<rect x="432.30" y="226.10" width="6.82" height="5.10" fill="#2e4a7b" stroke="#1f3a6e" stroke-width="0.4"/>
<rect x="432.30" y="236.28" width="6.82" height="5.10" fill="#2e4a7b" stroke="#1f3a6e" stroke-width="0.4"/>
<rect x="432.30" y="246.45" width="6.82" height="5.10" fill="#2e4a7b" stroke="#1f3a6e" stroke-width="0.4"/>
<rect x="432.30" y="256.62" width="6.82" height="5.10" fill="#2e4a7b" stroke="#1f3a6e" stroke-width="0.4"/>
<rect x="432.30" y="266.80" width="6.82" height="5.10" fill="#2e4a7b" stroke="#1f3a6e" stroke-width="0.4"/>
<rect x="432.30" y="276.98" width="6.82" height="5.10" fill="#2e4a7b" stroke="#1f3a6e" stroke-width="0.4"/>
<rect x="432.30" y="287.15" width="3.36" height="5.10" fill="#df8c1a" stroke="#c87a10" stroke-width="0.4"/>
<rect x="432.30" y="297.32" width="3.36" height="5.10" fill="#a3002a" stroke="#8c0022" stroke-width="0.4"/>
<rect x="432.30" y="307.50" width="3.36" height="5.10" fill="#2e4a7b" stroke="#1f3a6e" stroke-width="0.4"/>
<rect x="432.30" y="317.68" width="3.36" height="5.10" fill="#4f5567" stroke="#3d4357" stroke-width="0.4"/>
<rect x="432.30" y="327.85" width="3.36" height="5.10" fill="#a3002a" stroke="#8c0022" stroke-width="0.4"/>
<rect x="432.30" y="338.03" width="3.36" height="5.10" fill="#4f5567" stroke="#3d4357" stroke-width="0.4"/>
<rect x="432.30" y="348.20" width="3.36" height="5.10" fill="#2e4a7b" stroke="#1f3a6e" stroke-width="0.4"/>
<rect x="432.30" y="358.38" width="3.36" height="5.10" fill="#68ad45" stroke="#579a38" stroke-width="0.4"/>
<rect x="432.30" y="368.55" width="3.36" height="5.10" fill="#2e4a7b" stroke="#1f3a6e" stroke-width="0.4"/>
<rect x="432.30" y="378.73" width="3.36" height="5.10" fill="#4f5567" stroke="#3d4357" stroke-width="0.4"/>
<rect x="432.30" y="388.90" width="3.36" height="5.10" fill="#2e4a7b" stroke="#1f3a6e" stroke-width="0.4"/>
<rect x="432.30" y="399.08" width="3.36" height="5.10" fill="#4f5567" stroke="#3d4357" stroke-width="0.4"/>
<rect x="432.30" y="409.25" width="3.36" height="5.10" fill="#2e4a7b" stroke="#1f3a6e" stroke-width="0.4"/>
<rect x="432.30" y="419.43" width="3.36" height="5.10" fill="#2e4a7b" stroke="#1f3a6e" stroke-width="0.4"/>
<rect x="432.30" y="429.60" width="3.36" height="5.10" fill="#a3002a" stroke="#8c0022" stroke-width="0.4"/>
<rect x="432.30" y="439.78" width="3.36" height="5.10" fill="#2e4a7b" stroke="#1f3a6e" stroke-width="0.4"/>
<text x="451.60" y="229.30" font-size="6.9" text-anchor="start" fill="#111" color="#111">Alterations</text>
<rect x="451.50" y="236.60" width="6.50" height="6.50" fill="#2e4a7b"/>
<text x="462.00" y="242.30" font-size="6.9" text-anchor="start" fill="#111" color="#111">Missense</text>
<rect x="451.50" y="246.90" width="6.50" height="6.50" fill="#4f5567"/>
<text x="462.00" y="252.60" font-size="6.9" text-anchor="start" fill="#111" color="#111">Stop-gain</text>
<rect x="451.50" y="257.00" width="6.50" height="6.50" fill="#a3002a"/>
<text x="462.00" y="262.70" font-size="6.9" text-anchor="start" fill="#111" color="#111">Frameshift indel</text>
<rect x="451.50" y="267.10" width="6.50" height="6.50" fill="#66a8dd"/>
<text x="462.00" y="272.80" font-size="6.9" text-anchor="start" fill="#111" color="#111">Inframe indel</text>
<rect x="451.50" y="277.20" width="6.50" height="6.50" fill="#68ad45"/>
<text x="462.00" y="282.90" font-size="6.9" text-anchor="start" fill="#111" color="#111">Splicing variant</text>
<rect x="451.50" y="287.30" width="6.50" height="6.50" fill="#df8c1a"/>
<text x="462.00" y="293.00" font-size="6.9" text-anchor="start" fill="#111" color="#111">Complex</text>
<circle cx="454.6" cy="301.00" r="2.6" fill="#f5c518" stroke="#1f3468" stroke-width="0.7"/>
<text x="462.00" y="303.20" font-size="6.9" text-anchor="start" fill="#111" color="#111">&gt;1 Variant</text>
<text transform="translate(17.0,291.4) rotate(-90)" font-size="8.7" fill="#6c4790" color="#6c4790" style="stroke-width:0.08px">Substitutions/Indels</text>
<rect x="45.00" y="451.15" width="13.17" height="19.65" fill="#a3002a" stroke="rgba(0,0,0,0.35)" stroke-width="0.6"/>
<rect x="58.17" y="451.15" width="13.17" height="19.65" fill="#df8c1a" stroke="rgba(0,0,0,0.35)" stroke-width="0.6"/>
<rect x="71.34" y="451.15" width="13.17" height="19.65" fill="#c9c7cd" stroke="rgba(0,0,0,0.35)" stroke-width="0.6"/>
<rect x="84.51" y="451.15" width="13.17" height="19.65" fill="#a3002a" stroke="rgba(0,0,0,0.35)" stroke-width="0.6"/>
<rect x="97.68" y="451.15" width="13.17" height="19.65" fill="#a3002a" stroke="rgba(0,0,0,0.35)" stroke-width="0.6"/>
<rect x="110.85" y="451.15" width="13.17" height="19.65" fill="#a3002a" stroke="rgba(0,0,0,0.35)" stroke-width="0.6"/>
<rect x="124.02" y="451.15" width="13.17" height="19.65" fill="#df8c1a" stroke="rgba(0,0,0,0.35)" stroke-width="0.6"/>
<rect x="137.19" y="451.15" width="13.17" height="19.65" fill="#a3002a" stroke="rgba(0,0,0,0.35)" stroke-width="0.6"/>
<rect x="150.36" y="451.15" width="13.17" height="19.65" fill="#df8c1a" stroke="rgba(0,0,0,0.35)" stroke-width="0.6"/>
<rect x="163.53" y="451.15" width="13.17" height="19.65" fill="#c9c7cd" stroke="rgba(0,0,0,0.35)" stroke-width="0.6"/>
<rect x="176.70" y="451.15" width="13.17" height="19.65" fill="#df8c1a" stroke="rgba(0,0,0,0.35)" stroke-width="0.6"/>
<rect x="189.87" y="451.15" width="13.17" height="19.65" fill="#df8c1a" stroke="rgba(0,0,0,0.35)" stroke-width="0.6"/>
<rect x="203.04" y="451.15" width="13.17" height="19.65" fill="#df8c1a" stroke="rgba(0,0,0,0.35)" stroke-width="0.6"/>
<rect x="216.21" y="451.15" width="13.17" height="19.65" fill="#df8c1a" stroke="rgba(0,0,0,0.35)" stroke-width="0.6"/>
<rect x="229.38" y="451.15" width="13.17" height="19.65" fill="#66a8dd" stroke="rgba(0,0,0,0.35)" stroke-width="0.6"/>
<rect x="242.55" y="451.15" width="13.17" height="19.65" fill="#c9c7cd" stroke="rgba(0,0,0,0.35)" stroke-width="0.6"/>
<rect x="255.72" y="451.15" width="13.17" height="19.65" fill="#df8c1a" stroke="rgba(0,0,0,0.35)" stroke-width="0.6"/>
<rect x="268.89" y="451.15" width="13.17" height="19.65" fill="#c9c7cd" stroke="rgba(0,0,0,0.35)" stroke-width="0.6"/>
<rect x="282.06" y="451.15" width="13.17" height="19.65" fill="#a3002a" stroke="rgba(0,0,0,0.35)" stroke-width="0.6"/>
<rect x="295.23" y="451.15" width="13.17" height="19.65" fill="#a3002a" stroke="rgba(0,0,0,0.35)" stroke-width="0.6"/>
<rect x="308.40" y="451.15" width="13.17" height="19.65" fill="#c9c7cd" stroke="rgba(0,0,0,0.35)" stroke-width="0.6"/>
<rect x="321.57" y="451.15" width="13.17" height="19.65" fill="#66a8dd" stroke="rgba(0,0,0,0.35)" stroke-width="0.6"/>
<rect x="334.74" y="451.15" width="13.17" height="19.65" fill="#c9c7cd" stroke="rgba(0,0,0,0.35)" stroke-width="0.6"/>
<rect x="347.91" y="451.15" width="13.17" height="19.65" fill="#df8c1a" stroke="rgba(0,0,0,0.35)" stroke-width="0.6"/>
<text transform="translate(373.8,463.9) scale(0.865,1)" font-size="8.2" fill="#6c4790" color="#6c4790" style="stroke-width:0.08px">RESPONSE</text>
<text x="105.80" y="492.30" font-size="6.9" text-anchor="start" fill="#111" color="#111">Response</text>
<rect x="140.80" y="487.30" width="6.00" height="6.00" fill="#66a8dd"/>
<text x="151.50" y="492.30" font-size="6.9" text-anchor="start" fill="#111" color="#111">CR-i</text>
<rect x="175.30" y="487.30" width="6.00" height="6.00" fill="#c9c7cd"/>
<text x="185.90" y="492.30" font-size="6.9" text-anchor="start" fill="#111" color="#111">N/E</text>
<rect x="209.10" y="487.30" width="6.00" height="6.00" fill="#a3002a"/>
<text x="220.10" y="492.30" font-size="6.9" text-anchor="start" fill="#111" color="#111">NR</text>
<rect x="242.90" y="487.30" width="6.00" height="6.00" fill="#df8c1a"/>
<text x="253.90" y="492.30" font-size="6.9" text-anchor="start" fill="#111" color="#111">PR</text>
<rect x="44.00" y="515.50" width="1.00" height="198.50" fill="#000"/>
<rect x="44.00" y="713.00" width="466.60" height="1.00" fill="#000"/>
<rect x="40.20" y="712.50" width="4.00" height="1.00" fill="#000"/>
<text x="35.90" y="715.60" font-size="8.2" text-anchor="end" fill="#111" color="#111">0</text>
<rect x="40.20" y="645.40" width="4.00" height="1.00" fill="#000"/>
<text x="35.90" y="648.50" font-size="8.2" text-anchor="end" fill="#111" color="#111">5</text>
<rect x="40.20" y="578.30" width="4.00" height="1.00" fill="#000"/>
<text x="35.90" y="581.40" font-size="8.2" text-anchor="end" fill="#111" color="#111">10</text>
<rect x="46.30" y="645.90" width="10.60" height="67.10" fill="#a3002a"/>
<rect x="46.30" y="565.38" width="10.60" height="80.52" fill="#df8c1a"/>
<rect x="46.30" y="525.12" width="10.60" height="40.26" fill="#c9c7cd"/>
<rect x="51.10" y="714.00" width="1.00" height="3.20" fill="#000"/>
<text transform="translate(55.90,724.00) rotate(-45)" font-size="7.1" text-anchor="end" fill="#111" color="#111">JAK2-V617F</text>
<rect x="58.44" y="686.16" width="10.60" height="26.84" fill="#a3002a"/>
<rect x="58.44" y="672.74" width="10.60" height="13.42" fill="#66a8dd"/>
<rect x="58.44" y="619.06" width="10.60" height="53.68" fill="#df8c1a"/>
<rect x="58.44" y="592.22" width="10.60" height="26.84" fill="#c9c7cd"/>
<rect x="63.24" y="714.00" width="1.00" height="3.20" fill="#000"/>
<text transform="translate(68.04,724.00) rotate(-45)" font-size="7.1" text-anchor="end" fill="#111" color="#111">TP53</text>
<rect x="70.58" y="686.16" width="10.60" height="26.84" fill="#a3002a"/>
<rect x="70.58" y="645.90" width="10.60" height="40.26" fill="#df8c1a"/>
<rect x="70.58" y="619.06" width="10.60" height="26.84" fill="#c9c7cd"/>
<rect x="75.38" y="714.00" width="1.00" height="3.20" fill="#000"/>
<text transform="translate(80.18,724.00) rotate(-45)" font-size="7.1" text-anchor="end" fill="#111" color="#111">SRSF2</text>
<rect x="82.72" y="686.16" width="10.60" height="26.84" fill="#a3002a"/>
<rect x="82.72" y="645.90" width="10.60" height="40.26" fill="#df8c1a"/>
<rect x="82.72" y="619.06" width="10.60" height="26.84" fill="#c9c7cd"/>
<rect x="87.52" y="714.00" width="1.00" height="3.20" fill="#000"/>
<text transform="translate(92.32,724.00) rotate(-45)" font-size="7.1" text-anchor="end" fill="#111" color="#111">TET2</text>
<rect x="94.86" y="672.74" width="10.60" height="40.26" fill="#a3002a"/>
<rect x="94.86" y="659.32" width="10.60" height="13.42" fill="#66a8dd"/>
<rect x="94.86" y="632.48" width="10.60" height="26.84" fill="#c9c7cd"/>
<rect x="99.66" y="714.00" width="1.00" height="3.20" fill="#000"/>
<text transform="translate(104.46,724.00) rotate(-45)" font-size="7.1" text-anchor="end" fill="#111" color="#111">EZH2</text>
<rect x="107.00" y="686.16" width="10.60" height="26.84" fill="#a3002a"/>
<rect x="107.00" y="659.32" width="10.60" height="26.84" fill="#df8c1a"/>
<rect x="107.00" y="645.90" width="10.60" height="13.42" fill="#c9c7cd"/>
<rect x="111.80" y="714.00" width="1.00" height="3.20" fill="#000"/>
<text transform="translate(116.60,724.00) rotate(-45)" font-size="7.1" text-anchor="end" fill="#111" color="#111">ASXL1</text>
<rect x="119.14" y="699.58" width="10.60" height="13.42" fill="#a3002a"/>
<rect x="119.14" y="659.32" width="10.60" height="40.26" fill="#df8c1a"/>
<rect x="123.94" y="714.00" width="1.00" height="3.20" fill="#000"/>
<text transform="translate(128.74,724.00) rotate(-45)" font-size="7.1" text-anchor="end" fill="#111" color="#111">CALR</text>
<rect x="131.28" y="686.16" width="10.60" height="26.84" fill="#a3002a"/>
<rect x="131.28" y="659.32" width="10.60" height="26.84" fill="#df8c1a"/>
<rect x="136.08" y="714.00" width="1.00" height="3.20" fill="#000"/>
<text transform="translate(140.88,724.00) rotate(-45)" font-size="7.1" text-anchor="end" fill="#111" color="#111">CUX1</text>
<rect x="143.42" y="686.16" width="10.60" height="26.84" fill="#df8c1a"/>
<rect x="143.42" y="659.32" width="10.60" height="26.84" fill="#c9c7cd"/>
<rect x="148.22" y="714.00" width="1.00" height="3.20" fill="#000"/>
<text transform="translate(153.02,724.00) rotate(-45)" font-size="7.1" text-anchor="end" fill="#111" color="#111">IDH1</text>
<rect x="155.56" y="686.16" width="10.60" height="26.84" fill="#a3002a"/>
<rect x="155.56" y="672.74" width="10.60" height="13.42" fill="#df8c1a"/>
<rect x="160.36" y="714.00" width="1.00" height="3.20" fill="#000"/>
<text transform="translate(165.16,724.00) rotate(-45)" font-size="7.1" text-anchor="end" fill="#111" color="#111">ATRX</text>
<rect x="167.70" y="672.74" width="10.60" height="40.26" fill="#a3002a"/>
<rect x="172.50" y="714.00" width="1.00" height="3.20" fill="#000"/>
<text transform="translate(177.30,724.00) rotate(-45)" font-size="7.1" text-anchor="end" fill="#111" color="#111">PHF6</text>
<rect x="179.84" y="686.16" width="10.60" height="26.84" fill="#df8c1a"/>
<rect x="179.84" y="672.74" width="10.60" height="13.42" fill="#c9c7cd"/>
<rect x="184.64" y="714.00" width="1.00" height="3.20" fill="#000"/>
<text transform="translate(189.44,724.00) rotate(-45)" font-size="7.1" text-anchor="end" fill="#111" color="#111">STAG2</text>
<rect x="191.98" y="699.58" width="10.60" height="13.42" fill="#a3002a"/>
<rect x="191.98" y="686.16" width="10.60" height="13.42" fill="#df8c1a"/>
<rect x="196.78" y="714.00" width="1.00" height="3.20" fill="#000"/>
<text transform="translate(201.58,724.00) rotate(-45)" font-size="7.1" text-anchor="end" fill="#111" color="#111">CBL</text>
<rect x="204.12" y="699.58" width="10.60" height="13.42" fill="#a3002a"/>
<rect x="204.12" y="686.16" width="10.60" height="13.42" fill="#df8c1a"/>
<rect x="208.92" y="714.00" width="1.00" height="3.20" fill="#000"/>
<text transform="translate(213.72,724.00) rotate(-45)" font-size="7.1" text-anchor="end" fill="#111" color="#111">DNMT3A</text>
<rect x="216.26" y="699.58" width="10.60" height="13.42" fill="#df8c1a"/>
<rect x="216.26" y="686.16" width="10.60" height="13.42" fill="#c9c7cd"/>
<rect x="221.06" y="714.00" width="1.00" height="3.20" fill="#000"/>
<text transform="translate(225.86,724.00) rotate(-45)" font-size="7.1" text-anchor="end" fill="#111" color="#111">EGFR</text>
<rect x="228.40" y="699.58" width="10.60" height="13.42" fill="#66a8dd"/>
<rect x="228.40" y="686.16" width="10.60" height="13.42" fill="#df8c1a"/>
<rect x="233.20" y="714.00" width="1.00" height="3.20" fill="#000"/>
<text transform="translate(238.00,724.00) rotate(-45)" font-size="7.1" text-anchor="end" fill="#111" color="#111">GATA2</text>
<rect x="240.54" y="699.58" width="10.60" height="13.42" fill="#a3002a"/>
<rect x="240.54" y="686.16" width="10.60" height="13.42" fill="#df8c1a"/>
<rect x="245.34" y="714.00" width="1.00" height="3.20" fill="#000"/>
<text transform="translate(250.14,724.00) rotate(-45)" font-size="7.1" text-anchor="end" fill="#111" color="#111">IDH2</text>
<rect x="252.68" y="699.58" width="10.60" height="13.42" fill="#a3002a"/>
<rect x="252.68" y="686.16" width="10.60" height="13.42" fill="#c9c7cd"/>
<rect x="257.48" y="714.00" width="1.00" height="3.20" fill="#000"/>
<text transform="translate(262.28,724.00) rotate(-45)" font-size="7.1" text-anchor="end" fill="#111" color="#111">MPL</text>
<rect x="264.82" y="686.16" width="10.60" height="26.84" fill="#df8c1a"/>
<rect x="269.62" y="714.00" width="1.00" height="3.20" fill="#000"/>
<text transform="translate(274.42,724.00) rotate(-45)" font-size="7.1" text-anchor="end" fill="#111" color="#111">NRAS</text>
<rect x="276.96" y="686.16" width="10.60" height="26.84" fill="#a3002a"/>
<rect x="281.76" y="714.00" width="1.00" height="3.20" fill="#000"/>
<text transform="translate(286.56,724.00) rotate(-45)" font-size="7.1" text-anchor="end" fill="#111" color="#111">RUNX1</text>
<rect x="289.10" y="699.58" width="10.60" height="13.42" fill="#df8c1a"/>
<rect x="289.10" y="686.16" width="10.60" height="13.42" fill="#c9c7cd"/>
<rect x="293.90" y="714.00" width="1.00" height="3.20" fill="#000"/>
<text transform="translate(298.70,724.00) rotate(-45)" font-size="7.1" text-anchor="end" fill="#111" color="#111">SF3B1</text>
<rect x="301.24" y="699.58" width="10.60" height="13.42" fill="#a3002a"/>
<rect x="301.24" y="686.16" width="10.60" height="13.42" fill="#66a8dd"/>
<rect x="306.04" y="714.00" width="1.00" height="3.20" fill="#000"/>
<text transform="translate(310.84,724.00) rotate(-45)" font-size="7.1" text-anchor="end" fill="#111" color="#111">U2AF1</text>
<rect x="313.38" y="699.58" width="10.60" height="13.42" fill="#a3002a"/>
<rect x="318.18" y="714.00" width="1.00" height="3.20" fill="#000"/>
<text transform="translate(322.98,724.00) rotate(-45)" font-size="7.1" text-anchor="end" fill="#111" color="#111">BCL10</text>
<rect x="325.52" y="699.58" width="10.60" height="13.42" fill="#df8c1a"/>
<rect x="330.32" y="714.00" width="1.00" height="3.20" fill="#000"/>
<text transform="translate(335.12,724.00) rotate(-45)" font-size="7.1" text-anchor="end" fill="#111" color="#111">CHEK2</text>
<rect x="337.66" y="699.58" width="10.60" height="13.42" fill="#df8c1a"/>
<rect x="342.46" y="714.00" width="1.00" height="3.20" fill="#000"/>
<text transform="translate(347.26,724.00) rotate(-45)" font-size="7.1" text-anchor="end" fill="#111" color="#111">CSF3R</text>
<rect x="349.80" y="699.58" width="10.60" height="13.42" fill="#c9c7cd"/>
<rect x="354.60" y="714.00" width="1.00" height="3.20" fill="#000"/>
<text transform="translate(359.40,724.00) rotate(-45)" font-size="7.1" text-anchor="end" fill="#111" color="#111">CUL3</text>
<rect x="361.94" y="699.58" width="10.60" height="13.42" fill="#df8c1a"/>
<rect x="366.74" y="714.00" width="1.00" height="3.20" fill="#000"/>
<text transform="translate(371.54,724.00) rotate(-45)" font-size="7.1" text-anchor="end" fill="#111" color="#111">ETV6</text>
<rect x="374.08" y="699.58" width="10.60" height="13.42" fill="#df8c1a"/>
<rect x="378.88" y="714.00" width="1.00" height="3.20" fill="#000"/>
<text transform="translate(383.68,724.00) rotate(-45)" font-size="7.1" text-anchor="end" fill="#111" color="#111">FAT1</text>
<rect x="386.22" y="699.58" width="10.60" height="13.42" fill="#df8c1a"/>
<rect x="391.02" y="714.00" width="1.00" height="3.20" fill="#000"/>
<text transform="translate(395.82,724.00) rotate(-45)" font-size="7.1" text-anchor="end" fill="#111" color="#111">GNAS</text>
<rect x="398.36" y="699.58" width="10.60" height="13.42" fill="#df8c1a"/>
<rect x="403.16" y="714.00" width="1.00" height="3.20" fill="#000"/>
<text transform="translate(407.96,724.00) rotate(-45)" font-size="7.1" text-anchor="end" fill="#111" color="#111">KMT2C</text>
<rect x="410.50" y="699.58" width="10.60" height="13.42" fill="#df8c1a"/>
<rect x="415.30" y="714.00" width="1.00" height="3.20" fill="#000"/>
<text transform="translate(420.10,724.00) rotate(-45)" font-size="7.1" text-anchor="end" fill="#111" color="#111">KRAS</text>
<rect x="422.64" y="699.58" width="10.60" height="13.42" fill="#c9c7cd"/>
<rect x="427.44" y="714.00" width="1.00" height="3.20" fill="#000"/>
<text transform="translate(432.24,724.00) rotate(-45)" font-size="7.1" text-anchor="end" fill="#111" color="#111">MED12</text>
<rect x="434.78" y="699.58" width="10.60" height="13.42" fill="#66a8dd"/>
<rect x="439.58" y="714.00" width="1.00" height="3.20" fill="#000"/>
<text transform="translate(444.38,724.00) rotate(-45)" font-size="7.1" text-anchor="end" fill="#111" color="#111">NF1</text>
<rect x="446.92" y="699.58" width="10.60" height="13.42" fill="#a3002a"/>
<rect x="451.72" y="714.00" width="1.00" height="3.20" fill="#000"/>
<text transform="translate(456.52,724.00) rotate(-45)" font-size="7.1" text-anchor="end" fill="#111" color="#111">PMS2</text>
<rect x="459.06" y="699.58" width="10.60" height="13.42" fill="#66a8dd"/>
<rect x="463.86" y="714.00" width="1.00" height="3.20" fill="#000"/>
<text transform="translate(468.66,724.00) rotate(-45)" font-size="7.1" text-anchor="end" fill="#111" color="#111">PTPN11</text>
<rect x="471.20" y="699.58" width="10.60" height="13.42" fill="#df8c1a"/>
<rect x="476.00" y="714.00" width="1.00" height="3.20" fill="#000"/>
<text transform="translate(480.80,724.00) rotate(-45)" font-size="7.1" text-anchor="end" fill="#111" color="#111">SETBP1</text>
<rect x="483.34" y="699.58" width="10.60" height="13.42" fill="#df8c1a"/>
<rect x="488.14" y="714.00" width="1.00" height="3.20" fill="#000"/>
<text transform="translate(492.94,724.00) rotate(-45)" font-size="7.1" text-anchor="end" fill="#111" color="#111">SH2B3</text>
<rect x="495.48" y="699.58" width="10.60" height="13.42" fill="#a3002a"/>
<rect x="500.28" y="714.00" width="1.00" height="3.20" fill="#000"/>
<text transform="translate(505.08,724.00) rotate(-45)" font-size="7.1" text-anchor="end" fill="#111" color="#111">STAT5B</text>
<text transform="translate(19.8,650.0) rotate(-90) scale(0.745,1)" font-size="11" fill="#111" color="#111" style="stroke-width:0.3px"># somatic mutations</text>
<text x="211.90" y="771.00" font-size="6.9" text-anchor="start" fill="#111" color="#111">Response</text>
<rect x="246.80" y="765.40" width="6.20" height="6.10" fill="#c9c7cd"/>
<text x="257.80" y="771.00" font-size="6.9" text-anchor="start" fill="#111" color="#111">N/E</text>
<rect x="278.10" y="765.40" width="6.20" height="6.10" fill="#df8c1a"/>
<text x="288.70" y="771.00" font-size="6.9" text-anchor="start" fill="#111" color="#111">PR</text>
<rect x="306.50" y="765.40" width="6.20" height="6.10" fill="#66a8dd"/>
<text x="317.10" y="771.00" font-size="6.9" text-anchor="start" fill="#111" color="#111">CR-i</text>
<rect x="340.20" y="765.40" width="6.20" height="6.10" fill="#a3002a"/>
<text x="350.40" y="771.00" font-size="6.9" text-anchor="start" fill="#111" color="#111">NR</text>
<rect x="0" y="0" width="520" height="1" fill="#000"/><rect x="0" y="1" width="520" height="1" fill="#aaa"/><rect x="0" y="0" width="1" height="782" fill="#000"/><rect x="1" y="1" width="1" height="780" fill="#555"/><rect x="519" y="0" width="1" height="782" fill="#000"/><rect x="518" y="1" width="1" height="780" fill="#888"/><rect x="0" y="781" width="520" height="1" fill="#000"/><rect x="1" y="780" width="518" height="1" fill="#888"/>
</svg>
</body></html>
